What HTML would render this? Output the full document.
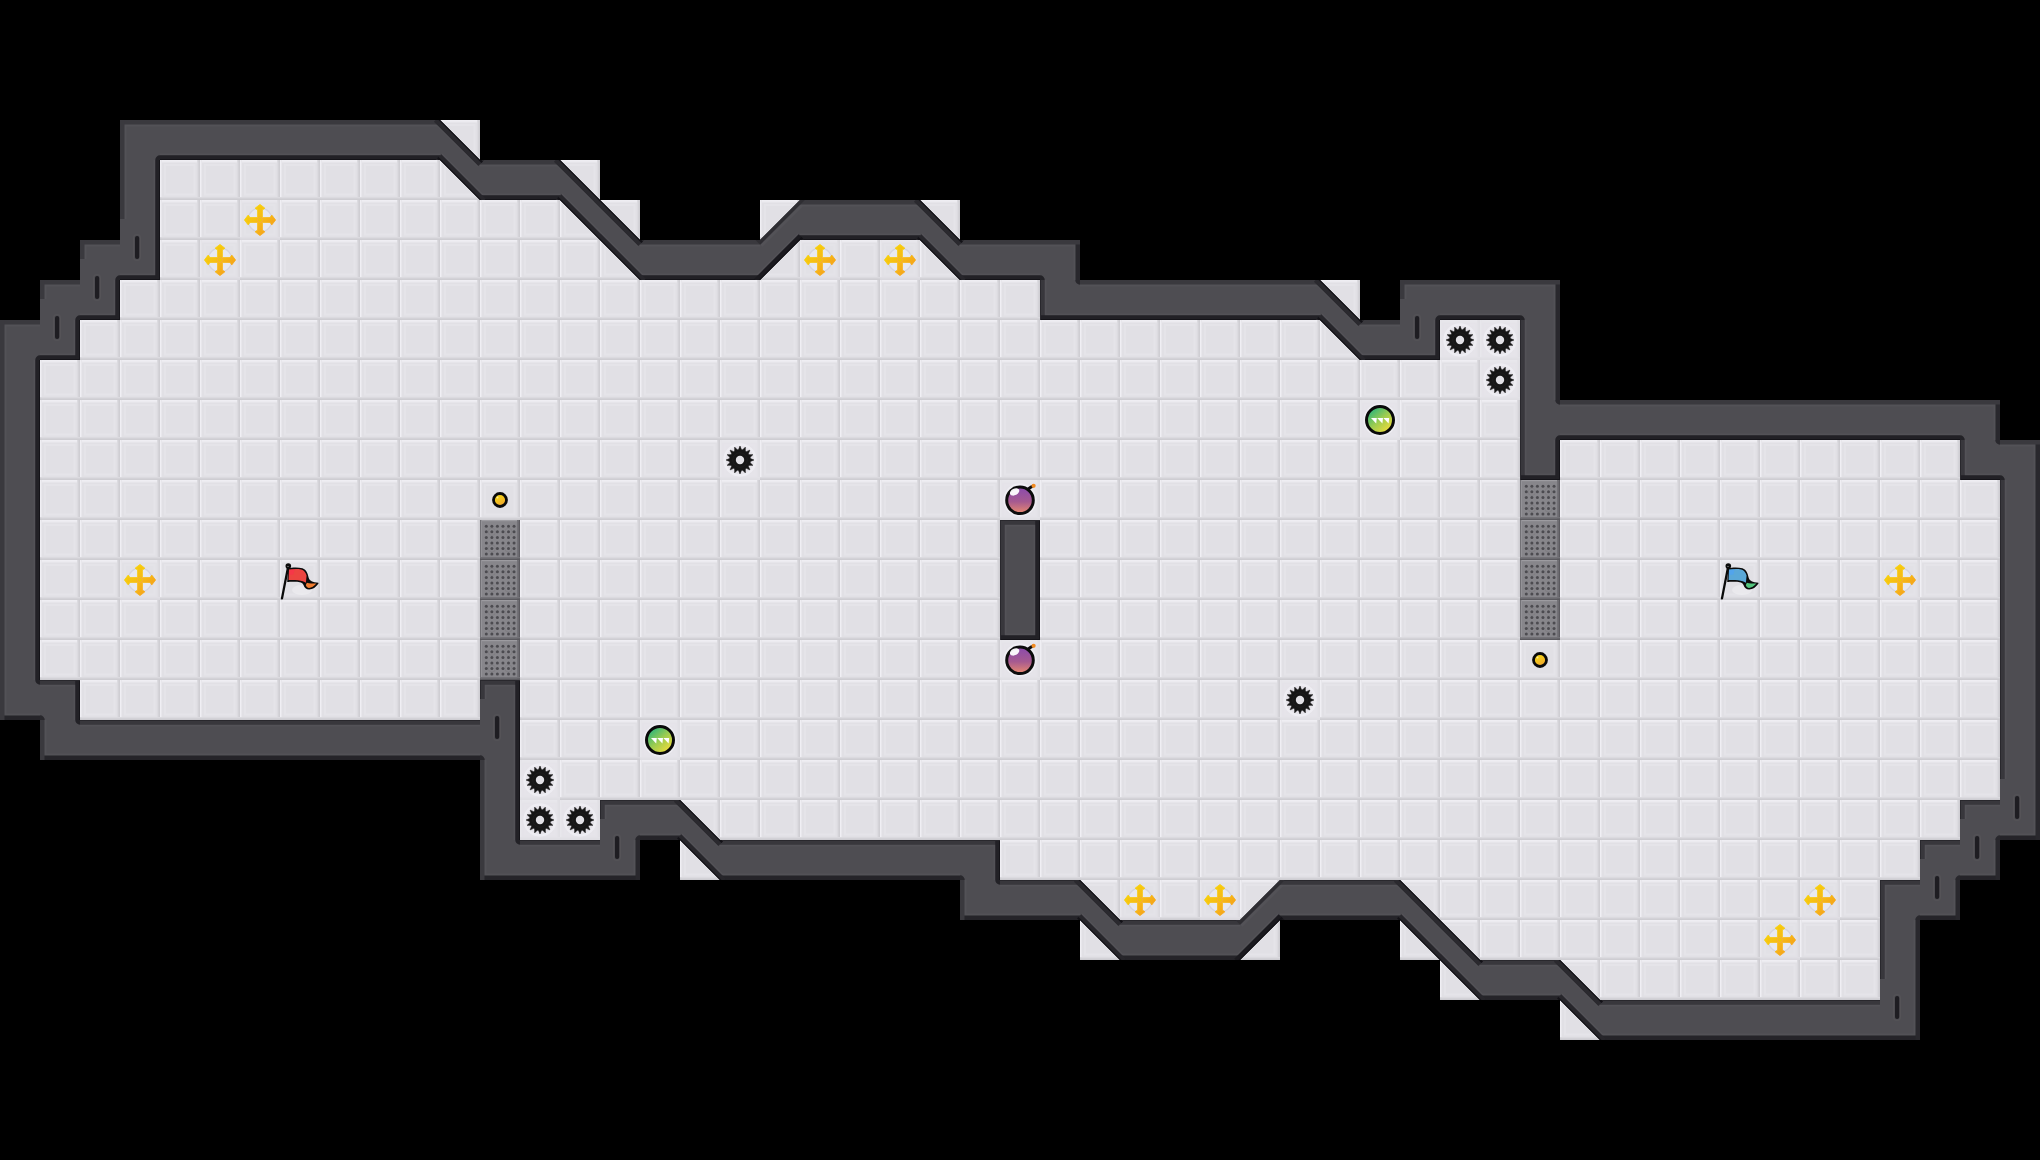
<!DOCTYPE html><html><head><meta charset="utf-8"><style>html,body{margin:0;padding:0;background:#000;overflow:hidden}svg{display:block}</style></head><body>
<svg width="2040" height="1160" viewBox="0 0 2040 1160">
<defs>
<pattern id="fl" width="40" height="40" patternUnits="userSpaceOnUse">
<rect width="40" height="40" fill="#e1e0e5"/>
<rect x="5" y="5" width="29.5" height="29.5" fill="none" stroke="#e5e4e9" stroke-width="2"/>
<rect x="0" y="0" width="40" height="1" fill="#efeef3"/>
<rect x="0" y="1" width="40" height="1" fill="#ecebf0"/>
<rect x="0" y="2" width="40" height="1" fill="#e6e5ea"/>
<rect x="0" y="0" width="1" height="40" fill="#f0eff4"/>
<rect x="1" y="0" width="1" height="40" fill="#e8e7ec"/>
<rect x="37" y="0" width="1" height="40" fill="#dcdbe0"/>
<rect x="38" y="0" width="1" height="40" fill="#d4d3d8"/>
<rect x="39" y="0" width="1" height="40" fill="#cfced3"/>
<rect x="0" y="37" width="40" height="1" fill="#dbdadf"/>
<rect x="0" y="38" width="40" height="1" fill="#d3d2d7"/>
<rect x="0" y="39" width="40" height="1" fill="#cecdd2"/>
</pattern>
<clipPath id="wc"><path d="M120 120h40v40h-40zM160 120h40v40h-40zM200 120h40v40h-40zM240 120h40v40h-40zM280 120h40v40h-40zM320 120h40v40h-40zM360 120h40v40h-40zM400 120h40v40h-40zM440 120 L440 160 L480 160 ZM120 160h40v40h-40zM440 160 L480 160 L480 200 ZM480 160h40v40h-40zM520 160h40v40h-40zM560 160 L560 200 L600 200 ZM120 200h40v40h-40zM560 200 L600 200 L600 240 ZM600 200 L600 240 L640 240 ZM800 200 L800 240 L760 240 ZM800 200h40v40h-40zM840 200h40v40h-40zM880 200h40v40h-40zM920 200 L920 240 L960 240 ZM80 240h40v40h-40zM120 240h40v40h-40zM600 240 L640 240 L640 280 ZM640 240h40v40h-40zM680 240h40v40h-40zM720 240h40v40h-40zM760 240 L800 240 L760 280 ZM920 240 L960 240 L960 280 ZM960 240h40v40h-40zM1000 240h40v40h-40zM1040 240h40v40h-40zM40 280h40v40h-40zM80 280h40v40h-40zM1040 280h40v40h-40zM1080 280h40v40h-40zM1120 280h40v40h-40zM1160 280h40v40h-40zM1200 280h40v40h-40zM1240 280h40v40h-40zM1280 280h40v40h-40zM1320 280 L1320 320 L1360 320 ZM1400 280h40v40h-40zM1440 280h40v40h-40zM1480 280h40v40h-40zM1520 280h40v40h-40zM0 320h40v40h-40zM40 320h40v40h-40zM1320 320 L1360 320 L1360 360 ZM1360 320h40v40h-40zM1400 320h40v40h-40zM1520 320h40v40h-40zM0 360h40v40h-40zM1520 360h40v40h-40zM0 400h40v40h-40zM1520 400h40v40h-40zM1560 400h40v40h-40zM1600 400h40v40h-40zM1640 400h40v40h-40zM1680 400h40v40h-40zM1720 400h40v40h-40zM1760 400h40v40h-40zM1800 400h40v40h-40zM1840 400h40v40h-40zM1880 400h40v40h-40zM1920 400h40v40h-40zM1960 400h40v40h-40zM0 440h40v40h-40zM1520 440h40v40h-40zM1960 440h40v40h-40zM2000 440h40v40h-40zM0 480h40v40h-40zM2000 480h40v40h-40zM0 520h40v40h-40zM1000 520h40v40h-40zM2000 520h40v40h-40zM0 560h40v40h-40zM1000 560h40v40h-40zM2000 560h40v40h-40zM0 600h40v40h-40zM1000 600h40v40h-40zM2000 600h40v40h-40zM0 640h40v40h-40zM2000 640h40v40h-40zM0 680h40v40h-40zM40 680h40v40h-40zM480 680h40v40h-40zM2000 680h40v40h-40zM40 720h40v40h-40zM80 720h40v40h-40zM120 720h40v40h-40zM160 720h40v40h-40zM200 720h40v40h-40zM240 720h40v40h-40zM280 720h40v40h-40zM320 720h40v40h-40zM360 720h40v40h-40zM400 720h40v40h-40zM440 720h40v40h-40zM480 720h40v40h-40zM2000 720h40v40h-40zM480 760h40v40h-40zM2000 760h40v40h-40zM480 800h40v40h-40zM600 800h40v40h-40zM640 800h40v40h-40zM680 800 L680 840 L720 840 ZM1960 800h40v40h-40zM2000 800h40v40h-40zM480 840h40v40h-40zM520 840h40v40h-40zM560 840h40v40h-40zM600 840h40v40h-40zM680 840 L720 840 L720 880 ZM720 840h40v40h-40zM760 840h40v40h-40zM800 840h40v40h-40zM840 840h40v40h-40zM880 840h40v40h-40zM920 840h40v40h-40zM960 840h40v40h-40zM1920 840h40v40h-40zM1960 840h40v40h-40zM960 880h40v40h-40zM1000 880h40v40h-40zM1040 880h40v40h-40zM1080 880 L1080 920 L1120 920 ZM1280 880 L1280 920 L1240 920 ZM1280 880h40v40h-40zM1320 880h40v40h-40zM1360 880h40v40h-40zM1400 880 L1400 920 L1440 920 ZM1880 880h40v40h-40zM1920 880h40v40h-40zM1080 920 L1120 920 L1120 960 ZM1120 920h40v40h-40zM1160 920h40v40h-40zM1200 920h40v40h-40zM1240 920 L1280 920 L1240 960 ZM1400 920 L1440 920 L1440 960 ZM1440 920 L1440 960 L1480 960 ZM1880 920h40v40h-40zM1440 960 L1480 960 L1480 1000 ZM1480 960h40v40h-40zM1520 960h40v40h-40zM1560 960 L1560 1000 L1600 1000 ZM1880 960h40v40h-40zM1560 1000 L1600 1000 L1600 1040 ZM1600 1000h40v40h-40zM1640 1000h40v40h-40zM1680 1000h40v40h-40zM1720 1000h40v40h-40zM1760 1000h40v40h-40zM1800 1000h40v40h-40zM1840 1000h40v40h-40zM1880 1000h40v40h-40z"/></clipPath>
<linearGradient id="bg" x1="0" y1="0" x2="1" y2="1"><stop offset="0" stop-color="#f8dc00"/><stop offset="0.5" stop-color="#f7c012"/><stop offset="1" stop-color="#f5901c"/></linearGradient>
<linearGradient id="bombg" x1="0" y1="0" x2="0" y2="1"><stop offset="0" stop-color="#8a4aae"/><stop offset="0.55" stop-color="#a65a90"/><stop offset="1" stop-color="#ea8a6e"/></linearGradient>
<linearGradient id="pug" x1="0.15" y1="0.1" x2="0.85" y2="0.9"><stop offset="0" stop-color="#2ab47c"/><stop offset="0.5" stop-color="#9ccc50"/><stop offset="1" stop-color="#f0dc3a"/></linearGradient>
<linearGradient id="btg" x1="0.2" y1="0" x2="0.8" y2="1"><stop offset="0" stop-color="#f6e010"/><stop offset="1" stop-color="#f0a032"/></linearGradient>
<radialGradient id="halo"><stop offset="0" stop-color="#ffffff" stop-opacity="0.35"/><stop offset="1" stop-color="#ffffff" stop-opacity="0"/></radialGradient>
</defs>
<rect width="2040" height="1160" fill="#000"/>
<path d="M440 120h40v40h-40zM160 160h40v40h-40zM200 160h40v40h-40zM240 160h40v40h-40zM280 160h40v40h-40zM320 160h40v40h-40zM360 160h40v40h-40zM400 160h40v40h-40zM440 160h40v40h-40zM560 160h40v40h-40zM160 200h40v40h-40zM200 200h40v40h-40zM240 200h40v40h-40zM280 200h40v40h-40zM320 200h40v40h-40zM360 200h40v40h-40zM400 200h40v40h-40zM440 200h40v40h-40zM480 200h40v40h-40zM520 200h40v40h-40zM560 200h40v40h-40zM600 200h40v40h-40zM760 200h40v40h-40zM920 200h40v40h-40zM160 240h40v40h-40zM200 240h40v40h-40zM240 240h40v40h-40zM280 240h40v40h-40zM320 240h40v40h-40zM360 240h40v40h-40zM400 240h40v40h-40zM440 240h40v40h-40zM480 240h40v40h-40zM520 240h40v40h-40zM560 240h40v40h-40zM600 240h40v40h-40zM760 240h40v40h-40zM800 240h40v40h-40zM840 240h40v40h-40zM880 240h40v40h-40zM920 240h40v40h-40zM120 280h40v40h-40zM160 280h40v40h-40zM200 280h40v40h-40zM240 280h40v40h-40zM280 280h40v40h-40zM320 280h40v40h-40zM360 280h40v40h-40zM400 280h40v40h-40zM440 280h40v40h-40zM480 280h40v40h-40zM520 280h40v40h-40zM560 280h40v40h-40zM600 280h40v40h-40zM640 280h40v40h-40zM680 280h40v40h-40zM720 280h40v40h-40zM760 280h40v40h-40zM800 280h40v40h-40zM840 280h40v40h-40zM880 280h40v40h-40zM920 280h40v40h-40zM960 280h40v40h-40zM1000 280h40v40h-40zM1320 280h40v40h-40zM80 320h40v40h-40zM120 320h40v40h-40zM160 320h40v40h-40zM200 320h40v40h-40zM240 320h40v40h-40zM280 320h40v40h-40zM320 320h40v40h-40zM360 320h40v40h-40zM400 320h40v40h-40zM440 320h40v40h-40zM480 320h40v40h-40zM520 320h40v40h-40zM560 320h40v40h-40zM600 320h40v40h-40zM640 320h40v40h-40zM680 320h40v40h-40zM720 320h40v40h-40zM760 320h40v40h-40zM800 320h40v40h-40zM840 320h40v40h-40zM880 320h40v40h-40zM920 320h40v40h-40zM960 320h40v40h-40zM1000 320h40v40h-40zM1040 320h40v40h-40zM1080 320h40v40h-40zM1120 320h40v40h-40zM1160 320h40v40h-40zM1200 320h40v40h-40zM1240 320h40v40h-40zM1280 320h40v40h-40zM1320 320h40v40h-40zM1440 320h40v40h-40zM1480 320h40v40h-40zM40 360h40v40h-40zM80 360h40v40h-40zM120 360h40v40h-40zM160 360h40v40h-40zM200 360h40v40h-40zM240 360h40v40h-40zM280 360h40v40h-40zM320 360h40v40h-40zM360 360h40v40h-40zM400 360h40v40h-40zM440 360h40v40h-40zM480 360h40v40h-40zM520 360h40v40h-40zM560 360h40v40h-40zM600 360h40v40h-40zM640 360h40v40h-40zM680 360h40v40h-40zM720 360h40v40h-40zM760 360h40v40h-40zM800 360h40v40h-40zM840 360h40v40h-40zM880 360h40v40h-40zM920 360h40v40h-40zM960 360h40v40h-40zM1000 360h40v40h-40zM1040 360h40v40h-40zM1080 360h40v40h-40zM1120 360h40v40h-40zM1160 360h40v40h-40zM1200 360h40v40h-40zM1240 360h40v40h-40zM1280 360h40v40h-40zM1320 360h40v40h-40zM1360 360h40v40h-40zM1400 360h40v40h-40zM1440 360h40v40h-40zM1480 360h40v40h-40zM40 400h40v40h-40zM80 400h40v40h-40zM120 400h40v40h-40zM160 400h40v40h-40zM200 400h40v40h-40zM240 400h40v40h-40zM280 400h40v40h-40zM320 400h40v40h-40zM360 400h40v40h-40zM400 400h40v40h-40zM440 400h40v40h-40zM480 400h40v40h-40zM520 400h40v40h-40zM560 400h40v40h-40zM600 400h40v40h-40zM640 400h40v40h-40zM680 400h40v40h-40zM720 400h40v40h-40zM760 400h40v40h-40zM800 400h40v40h-40zM840 400h40v40h-40zM880 400h40v40h-40zM920 400h40v40h-40zM960 400h40v40h-40zM1000 400h40v40h-40zM1040 400h40v40h-40zM1080 400h40v40h-40zM1120 400h40v40h-40zM1160 400h40v40h-40zM1200 400h40v40h-40zM1240 400h40v40h-40zM1280 400h40v40h-40zM1320 400h40v40h-40zM1360 400h40v40h-40zM1400 400h40v40h-40zM1440 400h40v40h-40zM1480 400h40v40h-40zM40 440h40v40h-40zM80 440h40v40h-40zM120 440h40v40h-40zM160 440h40v40h-40zM200 440h40v40h-40zM240 440h40v40h-40zM280 440h40v40h-40zM320 440h40v40h-40zM360 440h40v40h-40zM400 440h40v40h-40zM440 440h40v40h-40zM480 440h40v40h-40zM520 440h40v40h-40zM560 440h40v40h-40zM600 440h40v40h-40zM640 440h40v40h-40zM680 440h40v40h-40zM720 440h40v40h-40zM760 440h40v40h-40zM800 440h40v40h-40zM840 440h40v40h-40zM880 440h40v40h-40zM920 440h40v40h-40zM960 440h40v40h-40zM1000 440h40v40h-40zM1040 440h40v40h-40zM1080 440h40v40h-40zM1120 440h40v40h-40zM1160 440h40v40h-40zM1200 440h40v40h-40zM1240 440h40v40h-40zM1280 440h40v40h-40zM1320 440h40v40h-40zM1360 440h40v40h-40zM1400 440h40v40h-40zM1440 440h40v40h-40zM1480 440h40v40h-40zM1560 440h40v40h-40zM1600 440h40v40h-40zM1640 440h40v40h-40zM1680 440h40v40h-40zM1720 440h40v40h-40zM1760 440h40v40h-40zM1800 440h40v40h-40zM1840 440h40v40h-40zM1880 440h40v40h-40zM1920 440h40v40h-40zM40 480h40v40h-40zM80 480h40v40h-40zM120 480h40v40h-40zM160 480h40v40h-40zM200 480h40v40h-40zM240 480h40v40h-40zM280 480h40v40h-40zM320 480h40v40h-40zM360 480h40v40h-40zM400 480h40v40h-40zM440 480h40v40h-40zM480 480h40v40h-40zM520 480h40v40h-40zM560 480h40v40h-40zM600 480h40v40h-40zM640 480h40v40h-40zM680 480h40v40h-40zM720 480h40v40h-40zM760 480h40v40h-40zM800 480h40v40h-40zM840 480h40v40h-40zM880 480h40v40h-40zM920 480h40v40h-40zM960 480h40v40h-40zM1000 480h40v40h-40zM1040 480h40v40h-40zM1080 480h40v40h-40zM1120 480h40v40h-40zM1160 480h40v40h-40zM1200 480h40v40h-40zM1240 480h40v40h-40zM1280 480h40v40h-40zM1320 480h40v40h-40zM1360 480h40v40h-40zM1400 480h40v40h-40zM1440 480h40v40h-40zM1480 480h40v40h-40zM1520 480h40v40h-40zM1560 480h40v40h-40zM1600 480h40v40h-40zM1640 480h40v40h-40zM1680 480h40v40h-40zM1720 480h40v40h-40zM1760 480h40v40h-40zM1800 480h40v40h-40zM1840 480h40v40h-40zM1880 480h40v40h-40zM1920 480h40v40h-40zM1960 480h40v40h-40zM40 520h40v40h-40zM80 520h40v40h-40zM120 520h40v40h-40zM160 520h40v40h-40zM200 520h40v40h-40zM240 520h40v40h-40zM280 520h40v40h-40zM320 520h40v40h-40zM360 520h40v40h-40zM400 520h40v40h-40zM440 520h40v40h-40zM480 520h40v40h-40zM520 520h40v40h-40zM560 520h40v40h-40zM600 520h40v40h-40zM640 520h40v40h-40zM680 520h40v40h-40zM720 520h40v40h-40zM760 520h40v40h-40zM800 520h40v40h-40zM840 520h40v40h-40zM880 520h40v40h-40zM920 520h40v40h-40zM960 520h40v40h-40zM1040 520h40v40h-40zM1080 520h40v40h-40zM1120 520h40v40h-40zM1160 520h40v40h-40zM1200 520h40v40h-40zM1240 520h40v40h-40zM1280 520h40v40h-40zM1320 520h40v40h-40zM1360 520h40v40h-40zM1400 520h40v40h-40zM1440 520h40v40h-40zM1480 520h40v40h-40zM1520 520h40v40h-40zM1560 520h40v40h-40zM1600 520h40v40h-40zM1640 520h40v40h-40zM1680 520h40v40h-40zM1720 520h40v40h-40zM1760 520h40v40h-40zM1800 520h40v40h-40zM1840 520h40v40h-40zM1880 520h40v40h-40zM1920 520h40v40h-40zM1960 520h40v40h-40zM40 560h40v40h-40zM80 560h40v40h-40zM120 560h40v40h-40zM160 560h40v40h-40zM200 560h40v40h-40zM240 560h40v40h-40zM280 560h40v40h-40zM320 560h40v40h-40zM360 560h40v40h-40zM400 560h40v40h-40zM440 560h40v40h-40zM480 560h40v40h-40zM520 560h40v40h-40zM560 560h40v40h-40zM600 560h40v40h-40zM640 560h40v40h-40zM680 560h40v40h-40zM720 560h40v40h-40zM760 560h40v40h-40zM800 560h40v40h-40zM840 560h40v40h-40zM880 560h40v40h-40zM920 560h40v40h-40zM960 560h40v40h-40zM1040 560h40v40h-40zM1080 560h40v40h-40zM1120 560h40v40h-40zM1160 560h40v40h-40zM1200 560h40v40h-40zM1240 560h40v40h-40zM1280 560h40v40h-40zM1320 560h40v40h-40zM1360 560h40v40h-40zM1400 560h40v40h-40zM1440 560h40v40h-40zM1480 560h40v40h-40zM1520 560h40v40h-40zM1560 560h40v40h-40zM1600 560h40v40h-40zM1640 560h40v40h-40zM1680 560h40v40h-40zM1720 560h40v40h-40zM1760 560h40v40h-40zM1800 560h40v40h-40zM1840 560h40v40h-40zM1880 560h40v40h-40zM1920 560h40v40h-40zM1960 560h40v40h-40zM40 600h40v40h-40zM80 600h40v40h-40zM120 600h40v40h-40zM160 600h40v40h-40zM200 600h40v40h-40zM240 600h40v40h-40zM280 600h40v40h-40zM320 600h40v40h-40zM360 600h40v40h-40zM400 600h40v40h-40zM440 600h40v40h-40zM480 600h40v40h-40zM520 600h40v40h-40zM560 600h40v40h-40zM600 600h40v40h-40zM640 600h40v40h-40zM680 600h40v40h-40zM720 600h40v40h-40zM760 600h40v40h-40zM800 600h40v40h-40zM840 600h40v40h-40zM880 600h40v40h-40zM920 600h40v40h-40zM960 600h40v40h-40zM1040 600h40v40h-40zM1080 600h40v40h-40zM1120 600h40v40h-40zM1160 600h40v40h-40zM1200 600h40v40h-40zM1240 600h40v40h-40zM1280 600h40v40h-40zM1320 600h40v40h-40zM1360 600h40v40h-40zM1400 600h40v40h-40zM1440 600h40v40h-40zM1480 600h40v40h-40zM1520 600h40v40h-40zM1560 600h40v40h-40zM1600 600h40v40h-40zM1640 600h40v40h-40zM1680 600h40v40h-40zM1720 600h40v40h-40zM1760 600h40v40h-40zM1800 600h40v40h-40zM1840 600h40v40h-40zM1880 600h40v40h-40zM1920 600h40v40h-40zM1960 600h40v40h-40zM40 640h40v40h-40zM80 640h40v40h-40zM120 640h40v40h-40zM160 640h40v40h-40zM200 640h40v40h-40zM240 640h40v40h-40zM280 640h40v40h-40zM320 640h40v40h-40zM360 640h40v40h-40zM400 640h40v40h-40zM440 640h40v40h-40zM480 640h40v40h-40zM520 640h40v40h-40zM560 640h40v40h-40zM600 640h40v40h-40zM640 640h40v40h-40zM680 640h40v40h-40zM720 640h40v40h-40zM760 640h40v40h-40zM800 640h40v40h-40zM840 640h40v40h-40zM880 640h40v40h-40zM920 640h40v40h-40zM960 640h40v40h-40zM1000 640h40v40h-40zM1040 640h40v40h-40zM1080 640h40v40h-40zM1120 640h40v40h-40zM1160 640h40v40h-40zM1200 640h40v40h-40zM1240 640h40v40h-40zM1280 640h40v40h-40zM1320 640h40v40h-40zM1360 640h40v40h-40zM1400 640h40v40h-40zM1440 640h40v40h-40zM1480 640h40v40h-40zM1520 640h40v40h-40zM1560 640h40v40h-40zM1600 640h40v40h-40zM1640 640h40v40h-40zM1680 640h40v40h-40zM1720 640h40v40h-40zM1760 640h40v40h-40zM1800 640h40v40h-40zM1840 640h40v40h-40zM1880 640h40v40h-40zM1920 640h40v40h-40zM1960 640h40v40h-40zM80 680h40v40h-40zM120 680h40v40h-40zM160 680h40v40h-40zM200 680h40v40h-40zM240 680h40v40h-40zM280 680h40v40h-40zM320 680h40v40h-40zM360 680h40v40h-40zM400 680h40v40h-40zM440 680h40v40h-40zM520 680h40v40h-40zM560 680h40v40h-40zM600 680h40v40h-40zM640 680h40v40h-40zM680 680h40v40h-40zM720 680h40v40h-40zM760 680h40v40h-40zM800 680h40v40h-40zM840 680h40v40h-40zM880 680h40v40h-40zM920 680h40v40h-40zM960 680h40v40h-40zM1000 680h40v40h-40zM1040 680h40v40h-40zM1080 680h40v40h-40zM1120 680h40v40h-40zM1160 680h40v40h-40zM1200 680h40v40h-40zM1240 680h40v40h-40zM1280 680h40v40h-40zM1320 680h40v40h-40zM1360 680h40v40h-40zM1400 680h40v40h-40zM1440 680h40v40h-40zM1480 680h40v40h-40zM1520 680h40v40h-40zM1560 680h40v40h-40zM1600 680h40v40h-40zM1640 680h40v40h-40zM1680 680h40v40h-40zM1720 680h40v40h-40zM1760 680h40v40h-40zM1800 680h40v40h-40zM1840 680h40v40h-40zM1880 680h40v40h-40zM1920 680h40v40h-40zM1960 680h40v40h-40zM520 720h40v40h-40zM560 720h40v40h-40zM600 720h40v40h-40zM640 720h40v40h-40zM680 720h40v40h-40zM720 720h40v40h-40zM760 720h40v40h-40zM800 720h40v40h-40zM840 720h40v40h-40zM880 720h40v40h-40zM920 720h40v40h-40zM960 720h40v40h-40zM1000 720h40v40h-40zM1040 720h40v40h-40zM1080 720h40v40h-40zM1120 720h40v40h-40zM1160 720h40v40h-40zM1200 720h40v40h-40zM1240 720h40v40h-40zM1280 720h40v40h-40zM1320 720h40v40h-40zM1360 720h40v40h-40zM1400 720h40v40h-40zM1440 720h40v40h-40zM1480 720h40v40h-40zM1520 720h40v40h-40zM1560 720h40v40h-40zM1600 720h40v40h-40zM1640 720h40v40h-40zM1680 720h40v40h-40zM1720 720h40v40h-40zM1760 720h40v40h-40zM1800 720h40v40h-40zM1840 720h40v40h-40zM1880 720h40v40h-40zM1920 720h40v40h-40zM1960 720h40v40h-40zM520 760h40v40h-40zM560 760h40v40h-40zM600 760h40v40h-40zM640 760h40v40h-40zM680 760h40v40h-40zM720 760h40v40h-40zM760 760h40v40h-40zM800 760h40v40h-40zM840 760h40v40h-40zM880 760h40v40h-40zM920 760h40v40h-40zM960 760h40v40h-40zM1000 760h40v40h-40zM1040 760h40v40h-40zM1080 760h40v40h-40zM1120 760h40v40h-40zM1160 760h40v40h-40zM1200 760h40v40h-40zM1240 760h40v40h-40zM1280 760h40v40h-40zM1320 760h40v40h-40zM1360 760h40v40h-40zM1400 760h40v40h-40zM1440 760h40v40h-40zM1480 760h40v40h-40zM1520 760h40v40h-40zM1560 760h40v40h-40zM1600 760h40v40h-40zM1640 760h40v40h-40zM1680 760h40v40h-40zM1720 760h40v40h-40zM1760 760h40v40h-40zM1800 760h40v40h-40zM1840 760h40v40h-40zM1880 760h40v40h-40zM1920 760h40v40h-40zM1960 760h40v40h-40zM520 800h40v40h-40zM560 800h40v40h-40zM680 800h40v40h-40zM720 800h40v40h-40zM760 800h40v40h-40zM800 800h40v40h-40zM840 800h40v40h-40zM880 800h40v40h-40zM920 800h40v40h-40zM960 800h40v40h-40zM1000 800h40v40h-40zM1040 800h40v40h-40zM1080 800h40v40h-40zM1120 800h40v40h-40zM1160 800h40v40h-40zM1200 800h40v40h-40zM1240 800h40v40h-40zM1280 800h40v40h-40zM1320 800h40v40h-40zM1360 800h40v40h-40zM1400 800h40v40h-40zM1440 800h40v40h-40zM1480 800h40v40h-40zM1520 800h40v40h-40zM1560 800h40v40h-40zM1600 800h40v40h-40zM1640 800h40v40h-40zM1680 800h40v40h-40zM1720 800h40v40h-40zM1760 800h40v40h-40zM1800 800h40v40h-40zM1840 800h40v40h-40zM1880 800h40v40h-40zM1920 800h40v40h-40zM680 840h40v40h-40zM1000 840h40v40h-40zM1040 840h40v40h-40zM1080 840h40v40h-40zM1120 840h40v40h-40zM1160 840h40v40h-40zM1200 840h40v40h-40zM1240 840h40v40h-40zM1280 840h40v40h-40zM1320 840h40v40h-40zM1360 840h40v40h-40zM1400 840h40v40h-40zM1440 840h40v40h-40zM1480 840h40v40h-40zM1520 840h40v40h-40zM1560 840h40v40h-40zM1600 840h40v40h-40zM1640 840h40v40h-40zM1680 840h40v40h-40zM1720 840h40v40h-40zM1760 840h40v40h-40zM1800 840h40v40h-40zM1840 840h40v40h-40zM1880 840h40v40h-40zM1080 880h40v40h-40zM1120 880h40v40h-40zM1160 880h40v40h-40zM1200 880h40v40h-40zM1240 880h40v40h-40zM1400 880h40v40h-40zM1440 880h40v40h-40zM1480 880h40v40h-40zM1520 880h40v40h-40zM1560 880h40v40h-40zM1600 880h40v40h-40zM1640 880h40v40h-40zM1680 880h40v40h-40zM1720 880h40v40h-40zM1760 880h40v40h-40zM1800 880h40v40h-40zM1840 880h40v40h-40zM1080 920h40v40h-40zM1240 920h40v40h-40zM1400 920h40v40h-40zM1440 920h40v40h-40zM1480 920h40v40h-40zM1520 920h40v40h-40zM1560 920h40v40h-40zM1600 920h40v40h-40zM1640 920h40v40h-40zM1680 920h40v40h-40zM1720 920h40v40h-40zM1760 920h40v40h-40zM1800 920h40v40h-40zM1840 920h40v40h-40zM1440 960h40v40h-40zM1560 960h40v40h-40zM1600 960h40v40h-40zM1640 960h40v40h-40zM1680 960h40v40h-40zM1720 960h40v40h-40zM1760 960h40v40h-40zM1800 960h40v40h-40zM1840 960h40v40h-40zM1560 1000h40v40h-40z" fill="url(#fl)"/>
<path d="M120 120h40v40h-40zM160 120h40v40h-40zM200 120h40v40h-40zM240 120h40v40h-40zM280 120h40v40h-40zM320 120h40v40h-40zM360 120h40v40h-40zM400 120h40v40h-40zM440 120 L440 160 L480 160 ZM120 160h40v40h-40zM440 160 L480 160 L480 200 ZM480 160h40v40h-40zM520 160h40v40h-40zM560 160 L560 200 L600 200 ZM120 200h40v40h-40zM560 200 L600 200 L600 240 ZM600 200 L600 240 L640 240 ZM800 200 L800 240 L760 240 ZM800 200h40v40h-40zM840 200h40v40h-40zM880 200h40v40h-40zM920 200 L920 240 L960 240 ZM80 240h40v40h-40zM120 240h40v40h-40zM600 240 L640 240 L640 280 ZM640 240h40v40h-40zM680 240h40v40h-40zM720 240h40v40h-40zM760 240 L800 240 L760 280 ZM920 240 L960 240 L960 280 ZM960 240h40v40h-40zM1000 240h40v40h-40zM1040 240h40v40h-40zM40 280h40v40h-40zM80 280h40v40h-40zM1040 280h40v40h-40zM1080 280h40v40h-40zM1120 280h40v40h-40zM1160 280h40v40h-40zM1200 280h40v40h-40zM1240 280h40v40h-40zM1280 280h40v40h-40zM1320 280 L1320 320 L1360 320 ZM1400 280h40v40h-40zM1440 280h40v40h-40zM1480 280h40v40h-40zM1520 280h40v40h-40zM0 320h40v40h-40zM40 320h40v40h-40zM1320 320 L1360 320 L1360 360 ZM1360 320h40v40h-40zM1400 320h40v40h-40zM1520 320h40v40h-40zM0 360h40v40h-40zM1520 360h40v40h-40zM0 400h40v40h-40zM1520 400h40v40h-40zM1560 400h40v40h-40zM1600 400h40v40h-40zM1640 400h40v40h-40zM1680 400h40v40h-40zM1720 400h40v40h-40zM1760 400h40v40h-40zM1800 400h40v40h-40zM1840 400h40v40h-40zM1880 400h40v40h-40zM1920 400h40v40h-40zM1960 400h40v40h-40zM0 440h40v40h-40zM1520 440h40v40h-40zM1960 440h40v40h-40zM2000 440h40v40h-40zM0 480h40v40h-40zM2000 480h40v40h-40zM0 520h40v40h-40zM1000 520h40v40h-40zM2000 520h40v40h-40zM0 560h40v40h-40zM1000 560h40v40h-40zM2000 560h40v40h-40zM0 600h40v40h-40zM1000 600h40v40h-40zM2000 600h40v40h-40zM0 640h40v40h-40zM2000 640h40v40h-40zM0 680h40v40h-40zM40 680h40v40h-40zM480 680h40v40h-40zM2000 680h40v40h-40zM40 720h40v40h-40zM80 720h40v40h-40zM120 720h40v40h-40zM160 720h40v40h-40zM200 720h40v40h-40zM240 720h40v40h-40zM280 720h40v40h-40zM320 720h40v40h-40zM360 720h40v40h-40zM400 720h40v40h-40zM440 720h40v40h-40zM480 720h40v40h-40zM2000 720h40v40h-40zM480 760h40v40h-40zM2000 760h40v40h-40zM480 800h40v40h-40zM600 800h40v40h-40zM640 800h40v40h-40zM680 800 L680 840 L720 840 ZM1960 800h40v40h-40zM2000 800h40v40h-40zM480 840h40v40h-40zM520 840h40v40h-40zM560 840h40v40h-40zM600 840h40v40h-40zM680 840 L720 840 L720 880 ZM720 840h40v40h-40zM760 840h40v40h-40zM800 840h40v40h-40zM840 840h40v40h-40zM880 840h40v40h-40zM920 840h40v40h-40zM960 840h40v40h-40zM1920 840h40v40h-40zM1960 840h40v40h-40zM960 880h40v40h-40zM1000 880h40v40h-40zM1040 880h40v40h-40zM1080 880 L1080 920 L1120 920 ZM1280 880 L1280 920 L1240 920 ZM1280 880h40v40h-40zM1320 880h40v40h-40zM1360 880h40v40h-40zM1400 880 L1400 920 L1440 920 ZM1880 880h40v40h-40zM1920 880h40v40h-40zM1080 920 L1120 920 L1120 960 ZM1120 920h40v40h-40zM1160 920h40v40h-40zM1200 920h40v40h-40zM1240 920 L1280 920 L1240 960 ZM1400 920 L1440 920 L1440 960 ZM1440 920 L1440 960 L1480 960 ZM1880 920h40v40h-40zM1440 960 L1480 960 L1480 1000 ZM1480 960h40v40h-40zM1520 960h40v40h-40zM1560 960 L1560 1000 L1600 1000 ZM1880 960h40v40h-40zM1560 1000 L1600 1000 L1600 1040 ZM1600 1000h40v40h-40zM1640 1000h40v40h-40zM1680 1000h40v40h-40zM1720 1000h40v40h-40zM1760 1000h40v40h-40zM1800 1000h40v40h-40zM1840 1000h40v40h-40zM1880 1000h40v40h-40z" fill="#4e4d52"/>
<g clip-path="url(#wc)" fill="none" stroke-linecap="square">
<path d="M160 160H200M200 160H240M240 160H280M280 160H320M320 160H360M360 160H400M400 160H440M480 200H520M520 200H560M800 240H840M840 240H880M880 240H920M120 280H160M640 280H680M680 280H720M720 280H760M960 280H1000M1000 280H1040M80 320H120M1040 320H1080M1080 320H1120M1120 320H1160M1160 320H1200M1200 320H1240M1240 320H1280M1280 320H1320M1440 320H1480M1480 320H1520M40 360H80M1360 360H1400M1400 360H1440M1560 440H1600M1600 440H1640M1640 440H1680M1680 440H1720M1720 440H1760M1760 440H1800M1800 440H1840M1840 440H1880M1880 440H1920M1920 440H1960M1520 480H1560M1960 480H2000M1000 640H1040M1000 520H1040M40 680H80M480 680H520M80 720H120M120 720H160M160 720H200M200 720H240M240 720H280M280 720H320M320 720H360M360 720H400M400 720H440M440 720H480M600 800H640M640 800H680M1960 800H2000M520 840H560M560 840H600M720 840H760M760 840H800M800 840H840M840 840H880M880 840H920M920 840H960M960 840H1000M1920 840H1960M1000 880H1040M1040 880H1080M1280 880H1320M1320 880H1360M1360 880H1400M1880 880H1920M1120 920H1160M1160 920H1200M1200 920H1240M1480 960H1520M1520 960H1560M1600 1000H1640M1640 1000H1680M1680 1000H1720M1720 1000H1760M1760 1000H1800M1800 1000H1840M1840 1000H1880M160 160V200M160 200V240M160 240V280M120 280V320M80 320V360M1440 320V360M40 360V400M40 400V440M40 440V480M1560 440V480M40 480V520M40 520V560M1040 520V560M40 560V600M1040 560V600M40 600V640M1040 600V640M40 640V680M80 680V720M520 680V720M520 720V760M520 760V800M520 800V840M1000 840V880M1040 280V320M1520 320V360M1520 360V400M1520 400V440M1520 440V480M1960 440V480M2000 480V520M1000 520V560M2000 520V560M1000 560V600M2000 560V600M1000 600V640M2000 600V640M2000 640V680M480 680V699M2000 680V720M2000 720V760M2000 760V779M600 800V819M1960 800V819M1920 840V859M1880 880V920M1880 920V960M1880 960V979" stroke="#535257" stroke-width="13" stroke-linecap="butt"/>
<path d="M0 720H40M40 760H80M80 760H120M120 760H160M160 760H200M200 760H240M240 760H280M280 760H320M320 760H360M360 760H400M400 760H440M440 760H480M640 840H680M2000 840H2040M480 880H520M520 880H560M560 880H600M600 880H640M720 880H760M760 880H800M800 880H840M840 880H880M880 880H920M920 880H960M1960 880H2000M960 920H1000M1000 920H1040M1040 920H1080M1280 920H1320M1320 920H1360M1360 920H1400M1920 920H1960M1120 960H1160M1160 960H1200M1200 960H1240M1480 1000H1520M1520 1000H1560M1600 1040H1640M1640 1040H1680M1680 1040H1720M1720 1040H1760M1760 1040H1800M1800 1040H1840M1840 1040H1880M1880 1040H1920M120 120H160M160 120H200M200 120H240M240 120H280M280 120H320M320 120H360M360 120H400M400 120H440M480 160H520M520 160H560M800 200H840M840 200H880M880 200H920M80 240H120M640 240H680M680 240H720M720 240H760M960 240H1000M1000 240H1040M1040 240H1080M40 280H80M1080 280H1120M1120 280H1160M1160 280H1200M1200 280H1240M1240 280H1280M1280 280H1320M1400 280H1440M1440 280H1480M1480 280H1520M1520 280H1560M0 320H40M1360 320H1400M1560 400H1600M1600 400H1640M1640 400H1680M1680 400H1720M1720 400H1760M1760 400H1800M1800 400H1840M1840 400H1880M1880 400H1920M1920 400H1960M1960 400H2000M2000 440H2040M1080 240V280M1560 280V320M1560 320V360M1560 360V400M2000 400V440M640 840V880M2000 840V880M1960 880V920M1920 920V960M1920 960V1000M1920 1000V1040M2040 0V1160M120 120V160M120 160V200M120 200V219M80 240V259M40 280V299M1400 280V299M40 720V760M480 760V800M480 800V840M480 840V880M960 880V920M0 0V1160M437.80 117.80L482.20 162.20M437.80 157.80L482.20 202.20M557.80 157.80L602.20 202.20M557.80 197.80L602.20 242.20M597.80 197.80L642.20 242.20M757.80 242.20L802.20 197.80M917.80 197.80L962.20 242.20M597.80 237.80L642.20 282.20M757.80 282.20L802.20 237.80M917.80 237.80L962.20 282.20M1317.80 277.80L1362.20 322.20M1317.80 317.80L1362.20 362.20M677.80 797.80L722.20 842.20M677.80 837.80L722.20 882.20M1077.80 877.80L1122.20 922.20M1237.80 922.20L1282.20 877.80M1397.80 877.80L1442.20 922.20M1077.80 917.80L1122.20 962.20M1237.80 962.20L1282.20 917.80M1397.80 917.80L1442.20 962.20M1437.80 917.80L1482.20 962.20M1437.80 957.80L1482.20 1002.20M1557.80 957.80L1602.20 1002.20M1557.80 997.80L1602.20 1042.20" stroke="#535257" stroke-width="13" stroke-linecap="butt"/>
<path d="M0 720H40M40 760H80M80 760H120M120 760H160M160 760H200M200 760H240M240 760H280M280 760H320M320 760H360M360 760H400M400 760H440M440 760H480M640 840H680M2000 840H2040M480 880H520M520 880H560M560 880H600M600 880H640M720 880H760M760 880H800M800 880H840M840 880H880M880 880H920M920 880H960M1960 880H2000M960 920H1000M1000 920H1040M1040 920H1080M1280 920H1320M1320 920H1360M1360 920H1400M1920 920H1960M1120 960H1160M1160 960H1200M1200 960H1240M1480 1000H1520M1520 1000H1560M1600 1040H1640M1640 1040H1680M1680 1040H1720M1720 1040H1760M1760 1040H1800M1800 1040H1840M1840 1040H1880M1880 1040H1920" stroke="#252429" stroke-width="9" stroke-linecap="butt"/>
<path d="M1080 240V280M1560 280V320M1560 320V360M1560 360V400M2000 400V440M640 840V880M2000 840V880M1960 880V920M1920 920V960M1920 960V1000M1920 1000V1040M2040 0V1160" stroke="#29282d" stroke-width="9" stroke-linecap="butt"/>
<path d="M120 120H160M160 120H200M200 120H240M240 120H280M280 120H320M320 120H360M360 120H400M400 120H440M480 160H520M520 160H560M800 200H840M840 200H880M880 200H920M80 240H120M640 240H680M680 240H720M720 240H760M960 240H1000M1000 240H1040M1040 240H1080M40 280H80M1080 280H1120M1120 280H1160M1160 280H1200M1200 280H1240M1240 280H1280M1280 280H1320M1400 280H1440M1440 280H1480M1480 280H1520M1520 280H1560M0 320H40M1360 320H1400M1560 400H1600M1600 400H1640M1640 400H1680M1680 400H1720M1720 400H1760M1760 400H1800M1800 400H1840M1840 400H1880M1880 400H1920M1920 400H1960M1960 400H2000M2000 440H2040" stroke="#3a393e" stroke-width="9" stroke-linecap="butt"/>
<path d="M120 120V160M120 160V200M120 200V219M80 240V259M40 280V299M1400 280V299M40 720V760M480 760V800M480 800V840M480 840V880M960 880V920M0 0V1160" stroke="#3a393e" stroke-width="9" stroke-linecap="butt"/>
<path d="M1000 520H1040M40 680H80M480 680H520M80 720H120M120 720H160M160 720H200M200 720H240M240 720H280M280 720H320M320 720H360M360 720H400M400 720H440M440 720H480M600 800H640M640 800H680M1960 800H2000M520 840H560M560 840H600M720 840H760M760 840H800M800 840H840M840 840H880M880 840H920M920 840H960M960 840H1000M1920 840H1960M1000 880H1040M1040 880H1080M1280 880H1320M1320 880H1360M1360 880H1400M1880 880H1920M1120 920H1160M1160 920H1200M1200 920H1240M1480 960H1520M1520 960H1560M1600 1000H1640M1640 1000H1680M1680 1000H1720M1720 1000H1760M1760 1000H1800M1800 1000H1840M1840 1000H1880" stroke="#38373c" stroke-width="9.5" stroke-linecap="butt"/>
<path d="M1040 280V320M1520 320V360M1520 360V400M1520 400V440M1520 440V480M1960 440V480M2000 480V520M1000 520V560M2000 520V560M1000 560V600M2000 560V600M1000 600V640M2000 600V640M2000 640V680M480 680V699M2000 680V720M2000 720V760M2000 760V779M600 800V819M1960 800V819M1920 840V859M1880 880V920M1880 920V960M1880 960V979" stroke="#38373c" stroke-width="9.5" stroke-linecap="butt"/>
<path d="M160 160H200M200 160H240M240 160H280M280 160H320M320 160H360M360 160H400M400 160H440M480 200H520M520 200H560M800 240H840M840 240H880M880 240H920M120 280H160M640 280H680M680 280H720M720 280H760M960 280H1000M1000 280H1040M80 320H120M1040 320H1080M1080 320H1120M1120 320H1160M1160 320H1200M1200 320H1240M1240 320H1280M1280 320H1320M1440 320H1480M1480 320H1520M40 360H80M1360 360H1400M1400 360H1440M1560 440H1600M1600 440H1640M1640 440H1680M1680 440H1720M1720 440H1760M1760 440H1800M1800 440H1840M1840 440H1880M1880 440H1920M1920 440H1960M1520 480H1560M1960 480H2000M1000 640H1040" stroke="#222126" stroke-width="9.5" stroke-linecap="butt"/>
<path d="M160 160V200M160 200V240M160 240V280M120 280V320M80 320V360M1440 320V360M40 360V400M40 400V440M40 440V480M1560 440V480M40 480V520M40 520V560M1040 520V560M40 560V600M1040 560V600M40 600V640M1040 600V640M40 640V680M80 680V720M520 680V720M520 720V760M520 760V800M520 800V840M1000 840V880" stroke="#222126" stroke-width="9.5" stroke-linecap="butt"/>
<path d="M160 160H155.25A4.75 4.75 0 0 1 160 155.25ZM120 280H115.25A4.75 4.75 0 0 1 120 275.25ZM1040 280V275.25A4.75 4.75 0 0 1 1044.75 280ZM80 320H75.25A4.75 4.75 0 0 1 80 315.25ZM1440 320H1435.25A4.75 4.75 0 0 1 1440 315.25ZM1520 320V315.25A4.75 4.75 0 0 1 1524.75 320ZM40 360H35.25A4.75 4.75 0 0 1 40 355.25ZM1560 440H1555.25A4.75 4.75 0 0 1 1560 435.25ZM1960 440V435.25A4.75 4.75 0 0 1 1964.75 440ZM2000 480V475.25A4.75 4.75 0 0 1 2004.75 480ZM40 680V684.75A4.75 4.75 0 0 1 35.25 680ZM80 720V724.75A4.75 4.75 0 0 1 75.25 720ZM520 840V844.75A4.75 4.75 0 0 1 515.25 840ZM1000 880V884.75A4.75 4.75 0 0 1 995.25 880Z" fill="#232227" stroke="none"/>
<path d="M1080 280V284.75A4.75 4.75 0 0 1 1075.25 280ZM1560 400V404.75A4.75 4.75 0 0 1 1555.25 400ZM2000 440V444.75A4.75 4.75 0 0 1 1995.25 440ZM40 720V715.25A4.75 4.75 0 0 1 44.75 720ZM480 760V755.25A4.75 4.75 0 0 1 484.75 760ZM640 840H635.25A4.75 4.75 0 0 1 640 835.25ZM2000 840H1995.25A4.75 4.75 0 0 1 2000 835.25ZM960 880V875.25A4.75 4.75 0 0 1 964.75 880ZM1960 880H1955.25A4.75 4.75 0 0 1 1960 875.25ZM1920 920H1915.25A4.75 4.75 0 0 1 1920 915.25Z" fill="#29282d" stroke="none"/>
<path d="M160 160H200M200 160H240M240 160H280M280 160H320M320 160H360M360 160H400M400 160H440M480 200H520M520 200H560M800 240H840M840 240H880M880 240H920M120 280H160M640 280H680M680 280H720M720 280H760M960 280H1000M1000 280H1040M80 320H120M1040 320H1080M1080 320H1120M1120 320H1160M1160 320H1200M1200 320H1240M1240 320H1280M1280 320H1320M1440 320H1480M1480 320H1520M40 360H80M1360 360H1400M1400 360H1440M1560 440H1600M1600 440H1640M1640 440H1680M1680 440H1720M1720 440H1760M1760 440H1800M1800 440H1840M1840 440H1880M1880 440H1920M1920 440H1960M1520 480H1560M1960 480H2000M1000 640H1040M160 160V200M160 200V240M160 240V280M120 280V320M80 320V360M1440 320V360M40 360V400M40 400V440M40 440V480M1560 440V480M40 480V520M40 520V560M1040 520V560M40 560V600M1040 560V600M40 600V640M1040 600V640M40 640V680M80 680V720M520 680V720M520 720V760M520 760V800M520 800V840M1000 840V880" stroke="#151419" stroke-width="2" stroke-linecap="butt"/>
<path d="M1000 520H1040M40 680H80M480 680H520M80 720H120M120 720H160M160 720H200M200 720H240M240 720H280M280 720H320M320 720H360M360 720H400M400 720H440M440 720H480M600 800H640M640 800H680M1960 800H2000M520 840H560M560 840H600M720 840H760M760 840H800M800 840H840M840 840H880M880 840H920M920 840H960M960 840H1000M1920 840H1960M1000 880H1040M1040 880H1080M1280 880H1320M1320 880H1360M1360 880H1400M1880 880H1920M1120 920H1160M1160 920H1200M1200 920H1240M1480 960H1520M1520 960H1560M1600 1000H1640M1640 1000H1680M1680 1000H1720M1720 1000H1760M1760 1000H1800M1800 1000H1840M1840 1000H1880M1040 280V320M1520 320V360M1520 360V400M1520 400V440M1520 440V480M1960 440V480M2000 480V520M1000 520V560M2000 520V560M1000 560V600M2000 560V600M1000 600V640M2000 600V640M2000 640V680M480 680V699M2000 680V720M2000 720V760M2000 760V779M600 800V819M1960 800V819M1920 840V859M1880 880V920M1880 920V960M1880 960V979" stroke="#29282d" stroke-width="2" stroke-linecap="butt"/>
<path d="M437.80 117.80L482.20 162.20M557.80 157.80L602.20 202.20M597.80 197.80L642.20 242.20M917.80 197.80L962.20 242.20M1317.80 277.80L1362.20 322.20M677.80 797.80L722.20 842.20M1077.80 877.80L1122.20 922.20M1397.80 877.80L1442.20 922.20M1437.80 917.80L1482.20 962.20M1557.80 957.80L1602.20 1002.20" stroke="#2a292e" stroke-width="11" stroke-linecap="butt"/>
<path d="M757.80 282.20L802.20 237.80M1237.80 962.20L1282.20 917.80" stroke="#1b1a1f" stroke-width="10" stroke-linecap="butt"/>
<path d="M437.80 157.80L482.20 202.20M557.80 197.80L602.20 242.20M597.80 237.80L642.20 282.20M917.80 237.80L962.20 282.20M1317.80 317.80L1362.20 362.20M677.80 837.80L722.20 882.20M1077.80 917.80L1122.20 962.20M1397.80 917.80L1442.20 962.20M1437.80 957.80L1482.20 1002.20M1557.80 997.80L1602.20 1042.20" stroke="#27262b" stroke-width="10" stroke-linecap="butt"/>
<path d="M757.80 242.20L802.20 197.80M1237.80 922.20L1282.20 877.80" stroke="#2f2e33" stroke-width="7" stroke-linecap="butt"/>
<path d="M437.80 117.80L482.20 162.20M437.80 157.80L482.20 202.20M557.80 157.80L602.20 202.20M557.80 197.80L602.20 242.20M597.80 197.80L642.20 242.20M917.80 197.80L962.20 242.20M597.80 237.80L642.20 282.20M757.80 282.20L802.20 237.80M917.80 237.80L962.20 282.20M1317.80 277.80L1362.20 322.20M1317.80 317.80L1362.20 362.20M677.80 797.80L722.20 842.20M677.80 837.80L722.20 882.20M1077.80 877.80L1122.20 922.20M1397.80 877.80L1442.20 922.20M1077.80 917.80L1122.20 962.20M1237.80 962.20L1282.20 917.80M1397.80 917.80L1442.20 962.20M1437.80 917.80L1482.20 962.20M1437.80 957.80L1482.20 1002.20M1557.80 957.80L1602.20 1002.20M1557.80 997.80L1602.20 1042.20" stroke="#131217" stroke-width="2" stroke-linecap="butt"/>
</g>
<rect x="133.5" y="234.5" width="7" height="26" rx="3" fill="none" stroke="#575659" stroke-width="0.8"/>
<rect x="135" y="236" width="4.2" height="23" rx="2" fill="#1e1d22"/>
<rect x="93.5" y="274.5" width="7" height="26" rx="3" fill="none" stroke="#575659" stroke-width="0.8"/>
<rect x="95" y="276" width="4.2" height="23" rx="2" fill="#1e1d22"/>
<rect x="53.5" y="314.5" width="7" height="26" rx="3" fill="none" stroke="#575659" stroke-width="0.8"/>
<rect x="55" y="316" width="4.2" height="23" rx="2" fill="#1e1d22"/>
<rect x="1413.5" y="314.5" width="7" height="26" rx="3" fill="none" stroke="#575659" stroke-width="0.8"/>
<rect x="1415" y="316" width="4.2" height="23" rx="2" fill="#1e1d22"/>
<rect x="493.5" y="714.5" width="7" height="26" rx="3" fill="none" stroke="#575659" stroke-width="0.8"/>
<rect x="495" y="716" width="4.2" height="23" rx="2" fill="#1e1d22"/>
<rect x="2013.5" y="794.5" width="7" height="26" rx="3" fill="none" stroke="#575659" stroke-width="0.8"/>
<rect x="2015" y="796" width="4.2" height="23" rx="2" fill="#1e1d22"/>
<rect x="613.5" y="834.5" width="7" height="26" rx="3" fill="none" stroke="#575659" stroke-width="0.8"/>
<rect x="615" y="836" width="4.2" height="23" rx="2" fill="#1e1d22"/>
<rect x="1973.5" y="834.5" width="7" height="26" rx="3" fill="none" stroke="#575659" stroke-width="0.8"/>
<rect x="1975" y="836" width="4.2" height="23" rx="2" fill="#1e1d22"/>
<rect x="1933.5" y="874.5" width="7" height="26" rx="3" fill="none" stroke="#575659" stroke-width="0.8"/>
<rect x="1935" y="876" width="4.2" height="23" rx="2" fill="#1e1d22"/>
<rect x="1893.5" y="994.5" width="7" height="26" rx="3" fill="none" stroke="#575659" stroke-width="0.8"/>
<rect x="1895" y="996" width="4.2" height="23" rx="2" fill="#1e1d22"/>
<g transform="translate(1520,480)"><rect width="40" height="40" fill="#87868b"/><rect width="40" height="1.2" fill="#9d9ca1"/><rect width="1" height="40" fill="#727176"/><rect x="1" width="1" height="40" fill="#939297"/><rect x="37" width="1.5" height="40" fill="#727176"/><rect x="38.5" width="1.5" height="40" fill="#5c5b60"/><rect y="37" width="40" height="1.5" fill="#737277"/><rect y="38.5" width="40" height="1.5" fill="#5a595e"/><circle cx="11.85" cy="11.85" r="3.6" fill="none" stroke="#7c7b80" stroke-width="0.7"/><circle cx="28.5" cy="11.85" r="3.6" fill="none" stroke="#7c7b80" stroke-width="0.7"/><circle cx="11.85" cy="28.5" r="3.6" fill="none" stroke="#7c7b80" stroke-width="0.7"/><circle cx="28.5" cy="28.5" r="3.6" fill="none" stroke="#7c7b80" stroke-width="0.7"/><circle cx="6.30" cy="6.30" r="1.5" fill="#4c4b50"/><circle cx="6.30" cy="11.85" r="1.5" fill="#4c4b50"/><circle cx="6.30" cy="17.40" r="1.5" fill="#4c4b50"/><circle cx="6.30" cy="22.95" r="1.5" fill="#4c4b50"/><circle cx="6.30" cy="28.50" r="1.5" fill="#4c4b50"/><circle cx="6.30" cy="34.05" r="1.5" fill="#4c4b50"/><circle cx="11.85" cy="6.30" r="1.5" fill="#4c4b50"/><circle cx="11.85" cy="11.85" r="1.5" fill="#4c4b50"/><circle cx="11.85" cy="17.40" r="1.5" fill="#4c4b50"/><circle cx="11.85" cy="22.95" r="1.5" fill="#4c4b50"/><circle cx="11.85" cy="28.50" r="1.5" fill="#4c4b50"/><circle cx="11.85" cy="34.05" r="1.5" fill="#4c4b50"/><circle cx="17.40" cy="6.30" r="1.5" fill="#4c4b50"/><circle cx="17.40" cy="11.85" r="1.5" fill="#4c4b50"/><circle cx="17.40" cy="17.40" r="1.5" fill="#4c4b50"/><circle cx="17.40" cy="22.95" r="1.5" fill="#4c4b50"/><circle cx="17.40" cy="28.50" r="1.5" fill="#4c4b50"/><circle cx="17.40" cy="34.05" r="1.5" fill="#4c4b50"/><circle cx="22.95" cy="6.30" r="1.5" fill="#4c4b50"/><circle cx="22.95" cy="11.85" r="1.5" fill="#4c4b50"/><circle cx="22.95" cy="17.40" r="1.5" fill="#4c4b50"/><circle cx="22.95" cy="22.95" r="1.5" fill="#4c4b50"/><circle cx="22.95" cy="28.50" r="1.5" fill="#4c4b50"/><circle cx="22.95" cy="34.05" r="1.5" fill="#4c4b50"/><circle cx="28.50" cy="6.30" r="1.5" fill="#4c4b50"/><circle cx="28.50" cy="11.85" r="1.5" fill="#4c4b50"/><circle cx="28.50" cy="17.40" r="1.5" fill="#4c4b50"/><circle cx="28.50" cy="22.95" r="1.5" fill="#4c4b50"/><circle cx="28.50" cy="28.50" r="1.5" fill="#4c4b50"/><circle cx="28.50" cy="34.05" r="1.5" fill="#4c4b50"/><circle cx="34.05" cy="6.30" r="1.5" fill="#4c4b50"/><circle cx="34.05" cy="11.85" r="1.5" fill="#4c4b50"/><circle cx="34.05" cy="17.40" r="1.5" fill="#4c4b50"/><circle cx="34.05" cy="22.95" r="1.5" fill="#4c4b50"/><circle cx="34.05" cy="28.50" r="1.5" fill="#4c4b50"/><circle cx="34.05" cy="34.05" r="1.5" fill="#4c4b50"/></g>
<g transform="translate(480,520)"><rect width="40" height="40" fill="#87868b"/><rect width="40" height="1.2" fill="#9d9ca1"/><rect width="1" height="40" fill="#727176"/><rect x="1" width="1" height="40" fill="#939297"/><rect x="37" width="1.5" height="40" fill="#727176"/><rect x="38.5" width="1.5" height="40" fill="#5c5b60"/><rect y="37" width="40" height="1.5" fill="#737277"/><rect y="38.5" width="40" height="1.5" fill="#5a595e"/><circle cx="11.85" cy="11.85" r="3.6" fill="none" stroke="#7c7b80" stroke-width="0.7"/><circle cx="28.5" cy="11.85" r="3.6" fill="none" stroke="#7c7b80" stroke-width="0.7"/><circle cx="11.85" cy="28.5" r="3.6" fill="none" stroke="#7c7b80" stroke-width="0.7"/><circle cx="28.5" cy="28.5" r="3.6" fill="none" stroke="#7c7b80" stroke-width="0.7"/><circle cx="6.30" cy="6.30" r="1.5" fill="#4c4b50"/><circle cx="6.30" cy="11.85" r="1.5" fill="#4c4b50"/><circle cx="6.30" cy="17.40" r="1.5" fill="#4c4b50"/><circle cx="6.30" cy="22.95" r="1.5" fill="#4c4b50"/><circle cx="6.30" cy="28.50" r="1.5" fill="#4c4b50"/><circle cx="6.30" cy="34.05" r="1.5" fill="#4c4b50"/><circle cx="11.85" cy="6.30" r="1.5" fill="#4c4b50"/><circle cx="11.85" cy="11.85" r="1.5" fill="#4c4b50"/><circle cx="11.85" cy="17.40" r="1.5" fill="#4c4b50"/><circle cx="11.85" cy="22.95" r="1.5" fill="#4c4b50"/><circle cx="11.85" cy="28.50" r="1.5" fill="#4c4b50"/><circle cx="11.85" cy="34.05" r="1.5" fill="#4c4b50"/><circle cx="17.40" cy="6.30" r="1.5" fill="#4c4b50"/><circle cx="17.40" cy="11.85" r="1.5" fill="#4c4b50"/><circle cx="17.40" cy="17.40" r="1.5" fill="#4c4b50"/><circle cx="17.40" cy="22.95" r="1.5" fill="#4c4b50"/><circle cx="17.40" cy="28.50" r="1.5" fill="#4c4b50"/><circle cx="17.40" cy="34.05" r="1.5" fill="#4c4b50"/><circle cx="22.95" cy="6.30" r="1.5" fill="#4c4b50"/><circle cx="22.95" cy="11.85" r="1.5" fill="#4c4b50"/><circle cx="22.95" cy="17.40" r="1.5" fill="#4c4b50"/><circle cx="22.95" cy="22.95" r="1.5" fill="#4c4b50"/><circle cx="22.95" cy="28.50" r="1.5" fill="#4c4b50"/><circle cx="22.95" cy="34.05" r="1.5" fill="#4c4b50"/><circle cx="28.50" cy="6.30" r="1.5" fill="#4c4b50"/><circle cx="28.50" cy="11.85" r="1.5" fill="#4c4b50"/><circle cx="28.50" cy="17.40" r="1.5" fill="#4c4b50"/><circle cx="28.50" cy="22.95" r="1.5" fill="#4c4b50"/><circle cx="28.50" cy="28.50" r="1.5" fill="#4c4b50"/><circle cx="28.50" cy="34.05" r="1.5" fill="#4c4b50"/><circle cx="34.05" cy="6.30" r="1.5" fill="#4c4b50"/><circle cx="34.05" cy="11.85" r="1.5" fill="#4c4b50"/><circle cx="34.05" cy="17.40" r="1.5" fill="#4c4b50"/><circle cx="34.05" cy="22.95" r="1.5" fill="#4c4b50"/><circle cx="34.05" cy="28.50" r="1.5" fill="#4c4b50"/><circle cx="34.05" cy="34.05" r="1.5" fill="#4c4b50"/></g>
<g transform="translate(1520,520)"><rect width="40" height="40" fill="#87868b"/><rect width="40" height="1.2" fill="#9d9ca1"/><rect width="1" height="40" fill="#727176"/><rect x="1" width="1" height="40" fill="#939297"/><rect x="37" width="1.5" height="40" fill="#727176"/><rect x="38.5" width="1.5" height="40" fill="#5c5b60"/><rect y="37" width="40" height="1.5" fill="#737277"/><rect y="38.5" width="40" height="1.5" fill="#5a595e"/><circle cx="11.85" cy="11.85" r="3.6" fill="none" stroke="#7c7b80" stroke-width="0.7"/><circle cx="28.5" cy="11.85" r="3.6" fill="none" stroke="#7c7b80" stroke-width="0.7"/><circle cx="11.85" cy="28.5" r="3.6" fill="none" stroke="#7c7b80" stroke-width="0.7"/><circle cx="28.5" cy="28.5" r="3.6" fill="none" stroke="#7c7b80" stroke-width="0.7"/><circle cx="6.30" cy="6.30" r="1.5" fill="#4c4b50"/><circle cx="6.30" cy="11.85" r="1.5" fill="#4c4b50"/><circle cx="6.30" cy="17.40" r="1.5" fill="#4c4b50"/><circle cx="6.30" cy="22.95" r="1.5" fill="#4c4b50"/><circle cx="6.30" cy="28.50" r="1.5" fill="#4c4b50"/><circle cx="6.30" cy="34.05" r="1.5" fill="#4c4b50"/><circle cx="11.85" cy="6.30" r="1.5" fill="#4c4b50"/><circle cx="11.85" cy="11.85" r="1.5" fill="#4c4b50"/><circle cx="11.85" cy="17.40" r="1.5" fill="#4c4b50"/><circle cx="11.85" cy="22.95" r="1.5" fill="#4c4b50"/><circle cx="11.85" cy="28.50" r="1.5" fill="#4c4b50"/><circle cx="11.85" cy="34.05" r="1.5" fill="#4c4b50"/><circle cx="17.40" cy="6.30" r="1.5" fill="#4c4b50"/><circle cx="17.40" cy="11.85" r="1.5" fill="#4c4b50"/><circle cx="17.40" cy="17.40" r="1.5" fill="#4c4b50"/><circle cx="17.40" cy="22.95" r="1.5" fill="#4c4b50"/><circle cx="17.40" cy="28.50" r="1.5" fill="#4c4b50"/><circle cx="17.40" cy="34.05" r="1.5" fill="#4c4b50"/><circle cx="22.95" cy="6.30" r="1.5" fill="#4c4b50"/><circle cx="22.95" cy="11.85" r="1.5" fill="#4c4b50"/><circle cx="22.95" cy="17.40" r="1.5" fill="#4c4b50"/><circle cx="22.95" cy="22.95" r="1.5" fill="#4c4b50"/><circle cx="22.95" cy="28.50" r="1.5" fill="#4c4b50"/><circle cx="22.95" cy="34.05" r="1.5" fill="#4c4b50"/><circle cx="28.50" cy="6.30" r="1.5" fill="#4c4b50"/><circle cx="28.50" cy="11.85" r="1.5" fill="#4c4b50"/><circle cx="28.50" cy="17.40" r="1.5" fill="#4c4b50"/><circle cx="28.50" cy="22.95" r="1.5" fill="#4c4b50"/><circle cx="28.50" cy="28.50" r="1.5" fill="#4c4b50"/><circle cx="28.50" cy="34.05" r="1.5" fill="#4c4b50"/><circle cx="34.05" cy="6.30" r="1.5" fill="#4c4b50"/><circle cx="34.05" cy="11.85" r="1.5" fill="#4c4b50"/><circle cx="34.05" cy="17.40" r="1.5" fill="#4c4b50"/><circle cx="34.05" cy="22.95" r="1.5" fill="#4c4b50"/><circle cx="34.05" cy="28.50" r="1.5" fill="#4c4b50"/><circle cx="34.05" cy="34.05" r="1.5" fill="#4c4b50"/></g>
<g transform="translate(480,560)"><rect width="40" height="40" fill="#87868b"/><rect width="40" height="1.2" fill="#9d9ca1"/><rect width="1" height="40" fill="#727176"/><rect x="1" width="1" height="40" fill="#939297"/><rect x="37" width="1.5" height="40" fill="#727176"/><rect x="38.5" width="1.5" height="40" fill="#5c5b60"/><rect y="37" width="40" height="1.5" fill="#737277"/><rect y="38.5" width="40" height="1.5" fill="#5a595e"/><circle cx="11.85" cy="11.85" r="3.6" fill="none" stroke="#7c7b80" stroke-width="0.7"/><circle cx="28.5" cy="11.85" r="3.6" fill="none" stroke="#7c7b80" stroke-width="0.7"/><circle cx="11.85" cy="28.5" r="3.6" fill="none" stroke="#7c7b80" stroke-width="0.7"/><circle cx="28.5" cy="28.5" r="3.6" fill="none" stroke="#7c7b80" stroke-width="0.7"/><circle cx="6.30" cy="6.30" r="1.5" fill="#4c4b50"/><circle cx="6.30" cy="11.85" r="1.5" fill="#4c4b50"/><circle cx="6.30" cy="17.40" r="1.5" fill="#4c4b50"/><circle cx="6.30" cy="22.95" r="1.5" fill="#4c4b50"/><circle cx="6.30" cy="28.50" r="1.5" fill="#4c4b50"/><circle cx="6.30" cy="34.05" r="1.5" fill="#4c4b50"/><circle cx="11.85" cy="6.30" r="1.5" fill="#4c4b50"/><circle cx="11.85" cy="11.85" r="1.5" fill="#4c4b50"/><circle cx="11.85" cy="17.40" r="1.5" fill="#4c4b50"/><circle cx="11.85" cy="22.95" r="1.5" fill="#4c4b50"/><circle cx="11.85" cy="28.50" r="1.5" fill="#4c4b50"/><circle cx="11.85" cy="34.05" r="1.5" fill="#4c4b50"/><circle cx="17.40" cy="6.30" r="1.5" fill="#4c4b50"/><circle cx="17.40" cy="11.85" r="1.5" fill="#4c4b50"/><circle cx="17.40" cy="17.40" r="1.5" fill="#4c4b50"/><circle cx="17.40" cy="22.95" r="1.5" fill="#4c4b50"/><circle cx="17.40" cy="28.50" r="1.5" fill="#4c4b50"/><circle cx="17.40" cy="34.05" r="1.5" fill="#4c4b50"/><circle cx="22.95" cy="6.30" r="1.5" fill="#4c4b50"/><circle cx="22.95" cy="11.85" r="1.5" fill="#4c4b50"/><circle cx="22.95" cy="17.40" r="1.5" fill="#4c4b50"/><circle cx="22.95" cy="22.95" r="1.5" fill="#4c4b50"/><circle cx="22.95" cy="28.50" r="1.5" fill="#4c4b50"/><circle cx="22.95" cy="34.05" r="1.5" fill="#4c4b50"/><circle cx="28.50" cy="6.30" r="1.5" fill="#4c4b50"/><circle cx="28.50" cy="11.85" r="1.5" fill="#4c4b50"/><circle cx="28.50" cy="17.40" r="1.5" fill="#4c4b50"/><circle cx="28.50" cy="22.95" r="1.5" fill="#4c4b50"/><circle cx="28.50" cy="28.50" r="1.5" fill="#4c4b50"/><circle cx="28.50" cy="34.05" r="1.5" fill="#4c4b50"/><circle cx="34.05" cy="6.30" r="1.5" fill="#4c4b50"/><circle cx="34.05" cy="11.85" r="1.5" fill="#4c4b50"/><circle cx="34.05" cy="17.40" r="1.5" fill="#4c4b50"/><circle cx="34.05" cy="22.95" r="1.5" fill="#4c4b50"/><circle cx="34.05" cy="28.50" r="1.5" fill="#4c4b50"/><circle cx="34.05" cy="34.05" r="1.5" fill="#4c4b50"/></g>
<g transform="translate(1520,560)"><rect width="40" height="40" fill="#87868b"/><rect width="40" height="1.2" fill="#9d9ca1"/><rect width="1" height="40" fill="#727176"/><rect x="1" width="1" height="40" fill="#939297"/><rect x="37" width="1.5" height="40" fill="#727176"/><rect x="38.5" width="1.5" height="40" fill="#5c5b60"/><rect y="37" width="40" height="1.5" fill="#737277"/><rect y="38.5" width="40" height="1.5" fill="#5a595e"/><circle cx="11.85" cy="11.85" r="3.6" fill="none" stroke="#7c7b80" stroke-width="0.7"/><circle cx="28.5" cy="11.85" r="3.6" fill="none" stroke="#7c7b80" stroke-width="0.7"/><circle cx="11.85" cy="28.5" r="3.6" fill="none" stroke="#7c7b80" stroke-width="0.7"/><circle cx="28.5" cy="28.5" r="3.6" fill="none" stroke="#7c7b80" stroke-width="0.7"/><circle cx="6.30" cy="6.30" r="1.5" fill="#4c4b50"/><circle cx="6.30" cy="11.85" r="1.5" fill="#4c4b50"/><circle cx="6.30" cy="17.40" r="1.5" fill="#4c4b50"/><circle cx="6.30" cy="22.95" r="1.5" fill="#4c4b50"/><circle cx="6.30" cy="28.50" r="1.5" fill="#4c4b50"/><circle cx="6.30" cy="34.05" r="1.5" fill="#4c4b50"/><circle cx="11.85" cy="6.30" r="1.5" fill="#4c4b50"/><circle cx="11.85" cy="11.85" r="1.5" fill="#4c4b50"/><circle cx="11.85" cy="17.40" r="1.5" fill="#4c4b50"/><circle cx="11.85" cy="22.95" r="1.5" fill="#4c4b50"/><circle cx="11.85" cy="28.50" r="1.5" fill="#4c4b50"/><circle cx="11.85" cy="34.05" r="1.5" fill="#4c4b50"/><circle cx="17.40" cy="6.30" r="1.5" fill="#4c4b50"/><circle cx="17.40" cy="11.85" r="1.5" fill="#4c4b50"/><circle cx="17.40" cy="17.40" r="1.5" fill="#4c4b50"/><circle cx="17.40" cy="22.95" r="1.5" fill="#4c4b50"/><circle cx="17.40" cy="28.50" r="1.5" fill="#4c4b50"/><circle cx="17.40" cy="34.05" r="1.5" fill="#4c4b50"/><circle cx="22.95" cy="6.30" r="1.5" fill="#4c4b50"/><circle cx="22.95" cy="11.85" r="1.5" fill="#4c4b50"/><circle cx="22.95" cy="17.40" r="1.5" fill="#4c4b50"/><circle cx="22.95" cy="22.95" r="1.5" fill="#4c4b50"/><circle cx="22.95" cy="28.50" r="1.5" fill="#4c4b50"/><circle cx="22.95" cy="34.05" r="1.5" fill="#4c4b50"/><circle cx="28.50" cy="6.30" r="1.5" fill="#4c4b50"/><circle cx="28.50" cy="11.85" r="1.5" fill="#4c4b50"/><circle cx="28.50" cy="17.40" r="1.5" fill="#4c4b50"/><circle cx="28.50" cy="22.95" r="1.5" fill="#4c4b50"/><circle cx="28.50" cy="28.50" r="1.5" fill="#4c4b50"/><circle cx="28.50" cy="34.05" r="1.5" fill="#4c4b50"/><circle cx="34.05" cy="6.30" r="1.5" fill="#4c4b50"/><circle cx="34.05" cy="11.85" r="1.5" fill="#4c4b50"/><circle cx="34.05" cy="17.40" r="1.5" fill="#4c4b50"/><circle cx="34.05" cy="22.95" r="1.5" fill="#4c4b50"/><circle cx="34.05" cy="28.50" r="1.5" fill="#4c4b50"/><circle cx="34.05" cy="34.05" r="1.5" fill="#4c4b50"/></g>
<g transform="translate(480,600)"><rect width="40" height="40" fill="#87868b"/><rect width="40" height="1.2" fill="#9d9ca1"/><rect width="1" height="40" fill="#727176"/><rect x="1" width="1" height="40" fill="#939297"/><rect x="37" width="1.5" height="40" fill="#727176"/><rect x="38.5" width="1.5" height="40" fill="#5c5b60"/><rect y="37" width="40" height="1.5" fill="#737277"/><rect y="38.5" width="40" height="1.5" fill="#5a595e"/><circle cx="11.85" cy="11.85" r="3.6" fill="none" stroke="#7c7b80" stroke-width="0.7"/><circle cx="28.5" cy="11.85" r="3.6" fill="none" stroke="#7c7b80" stroke-width="0.7"/><circle cx="11.85" cy="28.5" r="3.6" fill="none" stroke="#7c7b80" stroke-width="0.7"/><circle cx="28.5" cy="28.5" r="3.6" fill="none" stroke="#7c7b80" stroke-width="0.7"/><circle cx="6.30" cy="6.30" r="1.5" fill="#4c4b50"/><circle cx="6.30" cy="11.85" r="1.5" fill="#4c4b50"/><circle cx="6.30" cy="17.40" r="1.5" fill="#4c4b50"/><circle cx="6.30" cy="22.95" r="1.5" fill="#4c4b50"/><circle cx="6.30" cy="28.50" r="1.5" fill="#4c4b50"/><circle cx="6.30" cy="34.05" r="1.5" fill="#4c4b50"/><circle cx="11.85" cy="6.30" r="1.5" fill="#4c4b50"/><circle cx="11.85" cy="11.85" r="1.5" fill="#4c4b50"/><circle cx="11.85" cy="17.40" r="1.5" fill="#4c4b50"/><circle cx="11.85" cy="22.95" r="1.5" fill="#4c4b50"/><circle cx="11.85" cy="28.50" r="1.5" fill="#4c4b50"/><circle cx="11.85" cy="34.05" r="1.5" fill="#4c4b50"/><circle cx="17.40" cy="6.30" r="1.5" fill="#4c4b50"/><circle cx="17.40" cy="11.85" r="1.5" fill="#4c4b50"/><circle cx="17.40" cy="17.40" r="1.5" fill="#4c4b50"/><circle cx="17.40" cy="22.95" r="1.5" fill="#4c4b50"/><circle cx="17.40" cy="28.50" r="1.5" fill="#4c4b50"/><circle cx="17.40" cy="34.05" r="1.5" fill="#4c4b50"/><circle cx="22.95" cy="6.30" r="1.5" fill="#4c4b50"/><circle cx="22.95" cy="11.85" r="1.5" fill="#4c4b50"/><circle cx="22.95" cy="17.40" r="1.5" fill="#4c4b50"/><circle cx="22.95" cy="22.95" r="1.5" fill="#4c4b50"/><circle cx="22.95" cy="28.50" r="1.5" fill="#4c4b50"/><circle cx="22.95" cy="34.05" r="1.5" fill="#4c4b50"/><circle cx="28.50" cy="6.30" r="1.5" fill="#4c4b50"/><circle cx="28.50" cy="11.85" r="1.5" fill="#4c4b50"/><circle cx="28.50" cy="17.40" r="1.5" fill="#4c4b50"/><circle cx="28.50" cy="22.95" r="1.5" fill="#4c4b50"/><circle cx="28.50" cy="28.50" r="1.5" fill="#4c4b50"/><circle cx="28.50" cy="34.05" r="1.5" fill="#4c4b50"/><circle cx="34.05" cy="6.30" r="1.5" fill="#4c4b50"/><circle cx="34.05" cy="11.85" r="1.5" fill="#4c4b50"/><circle cx="34.05" cy="17.40" r="1.5" fill="#4c4b50"/><circle cx="34.05" cy="22.95" r="1.5" fill="#4c4b50"/><circle cx="34.05" cy="28.50" r="1.5" fill="#4c4b50"/><circle cx="34.05" cy="34.05" r="1.5" fill="#4c4b50"/></g>
<g transform="translate(1520,600)"><rect width="40" height="40" fill="#87868b"/><rect width="40" height="1.2" fill="#9d9ca1"/><rect width="1" height="40" fill="#727176"/><rect x="1" width="1" height="40" fill="#939297"/><rect x="37" width="1.5" height="40" fill="#727176"/><rect x="38.5" width="1.5" height="40" fill="#5c5b60"/><rect y="37" width="40" height="1.5" fill="#737277"/><rect y="38.5" width="40" height="1.5" fill="#5a595e"/><circle cx="11.85" cy="11.85" r="3.6" fill="none" stroke="#7c7b80" stroke-width="0.7"/><circle cx="28.5" cy="11.85" r="3.6" fill="none" stroke="#7c7b80" stroke-width="0.7"/><circle cx="11.85" cy="28.5" r="3.6" fill="none" stroke="#7c7b80" stroke-width="0.7"/><circle cx="28.5" cy="28.5" r="3.6" fill="none" stroke="#7c7b80" stroke-width="0.7"/><circle cx="6.30" cy="6.30" r="1.5" fill="#4c4b50"/><circle cx="6.30" cy="11.85" r="1.5" fill="#4c4b50"/><circle cx="6.30" cy="17.40" r="1.5" fill="#4c4b50"/><circle cx="6.30" cy="22.95" r="1.5" fill="#4c4b50"/><circle cx="6.30" cy="28.50" r="1.5" fill="#4c4b50"/><circle cx="6.30" cy="34.05" r="1.5" fill="#4c4b50"/><circle cx="11.85" cy="6.30" r="1.5" fill="#4c4b50"/><circle cx="11.85" cy="11.85" r="1.5" fill="#4c4b50"/><circle cx="11.85" cy="17.40" r="1.5" fill="#4c4b50"/><circle cx="11.85" cy="22.95" r="1.5" fill="#4c4b50"/><circle cx="11.85" cy="28.50" r="1.5" fill="#4c4b50"/><circle cx="11.85" cy="34.05" r="1.5" fill="#4c4b50"/><circle cx="17.40" cy="6.30" r="1.5" fill="#4c4b50"/><circle cx="17.40" cy="11.85" r="1.5" fill="#4c4b50"/><circle cx="17.40" cy="17.40" r="1.5" fill="#4c4b50"/><circle cx="17.40" cy="22.95" r="1.5" fill="#4c4b50"/><circle cx="17.40" cy="28.50" r="1.5" fill="#4c4b50"/><circle cx="17.40" cy="34.05" r="1.5" fill="#4c4b50"/><circle cx="22.95" cy="6.30" r="1.5" fill="#4c4b50"/><circle cx="22.95" cy="11.85" r="1.5" fill="#4c4b50"/><circle cx="22.95" cy="17.40" r="1.5" fill="#4c4b50"/><circle cx="22.95" cy="22.95" r="1.5" fill="#4c4b50"/><circle cx="22.95" cy="28.50" r="1.5" fill="#4c4b50"/><circle cx="22.95" cy="34.05" r="1.5" fill="#4c4b50"/><circle cx="28.50" cy="6.30" r="1.5" fill="#4c4b50"/><circle cx="28.50" cy="11.85" r="1.5" fill="#4c4b50"/><circle cx="28.50" cy="17.40" r="1.5" fill="#4c4b50"/><circle cx="28.50" cy="22.95" r="1.5" fill="#4c4b50"/><circle cx="28.50" cy="28.50" r="1.5" fill="#4c4b50"/><circle cx="28.50" cy="34.05" r="1.5" fill="#4c4b50"/><circle cx="34.05" cy="6.30" r="1.5" fill="#4c4b50"/><circle cx="34.05" cy="11.85" r="1.5" fill="#4c4b50"/><circle cx="34.05" cy="17.40" r="1.5" fill="#4c4b50"/><circle cx="34.05" cy="22.95" r="1.5" fill="#4c4b50"/><circle cx="34.05" cy="28.50" r="1.5" fill="#4c4b50"/><circle cx="34.05" cy="34.05" r="1.5" fill="#4c4b50"/></g>
<g transform="translate(480,640)"><rect width="40" height="40" fill="#87868b"/><rect width="40" height="1.2" fill="#9d9ca1"/><rect width="1" height="40" fill="#727176"/><rect x="1" width="1" height="40" fill="#939297"/><rect x="37" width="1.5" height="40" fill="#727176"/><rect x="38.5" width="1.5" height="40" fill="#5c5b60"/><rect y="37" width="40" height="1.5" fill="#737277"/><rect y="38.5" width="40" height="1.5" fill="#5a595e"/><circle cx="11.85" cy="11.85" r="3.6" fill="none" stroke="#7c7b80" stroke-width="0.7"/><circle cx="28.5" cy="11.85" r="3.6" fill="none" stroke="#7c7b80" stroke-width="0.7"/><circle cx="11.85" cy="28.5" r="3.6" fill="none" stroke="#7c7b80" stroke-width="0.7"/><circle cx="28.5" cy="28.5" r="3.6" fill="none" stroke="#7c7b80" stroke-width="0.7"/><circle cx="6.30" cy="6.30" r="1.5" fill="#4c4b50"/><circle cx="6.30" cy="11.85" r="1.5" fill="#4c4b50"/><circle cx="6.30" cy="17.40" r="1.5" fill="#4c4b50"/><circle cx="6.30" cy="22.95" r="1.5" fill="#4c4b50"/><circle cx="6.30" cy="28.50" r="1.5" fill="#4c4b50"/><circle cx="6.30" cy="34.05" r="1.5" fill="#4c4b50"/><circle cx="11.85" cy="6.30" r="1.5" fill="#4c4b50"/><circle cx="11.85" cy="11.85" r="1.5" fill="#4c4b50"/><circle cx="11.85" cy="17.40" r="1.5" fill="#4c4b50"/><circle cx="11.85" cy="22.95" r="1.5" fill="#4c4b50"/><circle cx="11.85" cy="28.50" r="1.5" fill="#4c4b50"/><circle cx="11.85" cy="34.05" r="1.5" fill="#4c4b50"/><circle cx="17.40" cy="6.30" r="1.5" fill="#4c4b50"/><circle cx="17.40" cy="11.85" r="1.5" fill="#4c4b50"/><circle cx="17.40" cy="17.40" r="1.5" fill="#4c4b50"/><circle cx="17.40" cy="22.95" r="1.5" fill="#4c4b50"/><circle cx="17.40" cy="28.50" r="1.5" fill="#4c4b50"/><circle cx="17.40" cy="34.05" r="1.5" fill="#4c4b50"/><circle cx="22.95" cy="6.30" r="1.5" fill="#4c4b50"/><circle cx="22.95" cy="11.85" r="1.5" fill="#4c4b50"/><circle cx="22.95" cy="17.40" r="1.5" fill="#4c4b50"/><circle cx="22.95" cy="22.95" r="1.5" fill="#4c4b50"/><circle cx="22.95" cy="28.50" r="1.5" fill="#4c4b50"/><circle cx="22.95" cy="34.05" r="1.5" fill="#4c4b50"/><circle cx="28.50" cy="6.30" r="1.5" fill="#4c4b50"/><circle cx="28.50" cy="11.85" r="1.5" fill="#4c4b50"/><circle cx="28.50" cy="17.40" r="1.5" fill="#4c4b50"/><circle cx="28.50" cy="22.95" r="1.5" fill="#4c4b50"/><circle cx="28.50" cy="28.50" r="1.5" fill="#4c4b50"/><circle cx="28.50" cy="34.05" r="1.5" fill="#4c4b50"/><circle cx="34.05" cy="6.30" r="1.5" fill="#4c4b50"/><circle cx="34.05" cy="11.85" r="1.5" fill="#4c4b50"/><circle cx="34.05" cy="17.40" r="1.5" fill="#4c4b50"/><circle cx="34.05" cy="22.95" r="1.5" fill="#4c4b50"/><circle cx="34.05" cy="28.50" r="1.5" fill="#4c4b50"/><circle cx="34.05" cy="34.05" r="1.5" fill="#4c4b50"/></g>
<g transform="translate(240,200)"><rect width="40" height="40" fill="#e3e2e7" opacity="0.55"/><circle cx="20" cy="20" r="12" fill="#e8e9f0" stroke="#d4d4de" stroke-width="1.3"/><polygon points="17.60,10.00 15.10,8.20 20.00,4.40 24.90,8.20 22.40,10.00 22.40,17.60 30.00,17.60 31.80,15.10 35.60,20.00 31.80,24.90 30.00,22.40 22.40,22.40 22.40,30.00 24.90,31.80 20.00,35.60 15.10,31.80 17.60,30.00 17.60,22.40 10.00,22.40 8.20,24.90 4.40,20.00 8.20,15.10 10.00,17.60 17.60,17.60" fill="url(#bg)" stroke="url(#bg)" stroke-width="0.8" stroke-linejoin="round"/><path d="M18.9 7V33M21.1 7V33M7 18.9H33M7 21.1H33" stroke="#f8a040" stroke-opacity="0.35" stroke-width="0.7"/><circle cx="20" cy="20" r="2.4" fill="#f2c800" stroke="#f6a84a" stroke-width="0.9"/></g>
<g transform="translate(200,240)"><rect width="40" height="40" fill="#e3e2e7" opacity="0.55"/><circle cx="20" cy="20" r="12" fill="#e8e9f0" stroke="#d4d4de" stroke-width="1.3"/><polygon points="17.60,10.00 15.10,8.20 20.00,4.40 24.90,8.20 22.40,10.00 22.40,17.60 30.00,17.60 31.80,15.10 35.60,20.00 31.80,24.90 30.00,22.40 22.40,22.40 22.40,30.00 24.90,31.80 20.00,35.60 15.10,31.80 17.60,30.00 17.60,22.40 10.00,22.40 8.20,24.90 4.40,20.00 8.20,15.10 10.00,17.60 17.60,17.60" fill="url(#bg)" stroke="url(#bg)" stroke-width="0.8" stroke-linejoin="round"/><path d="M18.9 7V33M21.1 7V33M7 18.9H33M7 21.1H33" stroke="#f8a040" stroke-opacity="0.35" stroke-width="0.7"/><circle cx="20" cy="20" r="2.4" fill="#f2c800" stroke="#f6a84a" stroke-width="0.9"/></g>
<g transform="translate(800,240)"><rect width="40" height="40" fill="#e3e2e7" opacity="0.55"/><circle cx="20" cy="20" r="12" fill="#e8e9f0" stroke="#d4d4de" stroke-width="1.3"/><polygon points="17.60,10.00 15.10,8.20 20.00,4.40 24.90,8.20 22.40,10.00 22.40,17.60 30.00,17.60 31.80,15.10 35.60,20.00 31.80,24.90 30.00,22.40 22.40,22.40 22.40,30.00 24.90,31.80 20.00,35.60 15.10,31.80 17.60,30.00 17.60,22.40 10.00,22.40 8.20,24.90 4.40,20.00 8.20,15.10 10.00,17.60 17.60,17.60" fill="url(#bg)" stroke="url(#bg)" stroke-width="0.8" stroke-linejoin="round"/><path d="M18.9 7V33M21.1 7V33M7 18.9H33M7 21.1H33" stroke="#f8a040" stroke-opacity="0.35" stroke-width="0.7"/><circle cx="20" cy="20" r="2.4" fill="#f2c800" stroke="#f6a84a" stroke-width="0.9"/></g>
<g transform="translate(880,240)"><rect width="40" height="40" fill="#e3e2e7" opacity="0.55"/><circle cx="20" cy="20" r="12" fill="#e8e9f0" stroke="#d4d4de" stroke-width="1.3"/><polygon points="17.60,10.00 15.10,8.20 20.00,4.40 24.90,8.20 22.40,10.00 22.40,17.60 30.00,17.60 31.80,15.10 35.60,20.00 31.80,24.90 30.00,22.40 22.40,22.40 22.40,30.00 24.90,31.80 20.00,35.60 15.10,31.80 17.60,30.00 17.60,22.40 10.00,22.40 8.20,24.90 4.40,20.00 8.20,15.10 10.00,17.60 17.60,17.60" fill="url(#bg)" stroke="url(#bg)" stroke-width="0.8" stroke-linejoin="round"/><path d="M18.9 7V33M21.1 7V33M7 18.9H33M7 21.1H33" stroke="#f8a040" stroke-opacity="0.35" stroke-width="0.7"/><circle cx="20" cy="20" r="2.4" fill="#f2c800" stroke="#f6a84a" stroke-width="0.9"/></g>
<g transform="translate(120,560)"><rect width="40" height="40" fill="#e3e2e7" opacity="0.55"/><circle cx="20" cy="20" r="12" fill="#e8e9f0" stroke="#d4d4de" stroke-width="1.3"/><polygon points="17.60,10.00 15.10,8.20 20.00,4.40 24.90,8.20 22.40,10.00 22.40,17.60 30.00,17.60 31.80,15.10 35.60,20.00 31.80,24.90 30.00,22.40 22.40,22.40 22.40,30.00 24.90,31.80 20.00,35.60 15.10,31.80 17.60,30.00 17.60,22.40 10.00,22.40 8.20,24.90 4.40,20.00 8.20,15.10 10.00,17.60 17.60,17.60" fill="url(#bg)" stroke="url(#bg)" stroke-width="0.8" stroke-linejoin="round"/><path d="M18.9 7V33M21.1 7V33M7 18.9H33M7 21.1H33" stroke="#f8a040" stroke-opacity="0.35" stroke-width="0.7"/><circle cx="20" cy="20" r="2.4" fill="#f2c800" stroke="#f6a84a" stroke-width="0.9"/></g>
<g transform="translate(1880,560)"><rect width="40" height="40" fill="#e3e2e7" opacity="0.55"/><circle cx="20" cy="20" r="12" fill="#e8e9f0" stroke="#d4d4de" stroke-width="1.3"/><polygon points="17.60,10.00 15.10,8.20 20.00,4.40 24.90,8.20 22.40,10.00 22.40,17.60 30.00,17.60 31.80,15.10 35.60,20.00 31.80,24.90 30.00,22.40 22.40,22.40 22.40,30.00 24.90,31.80 20.00,35.60 15.10,31.80 17.60,30.00 17.60,22.40 10.00,22.40 8.20,24.90 4.40,20.00 8.20,15.10 10.00,17.60 17.60,17.60" fill="url(#bg)" stroke="url(#bg)" stroke-width="0.8" stroke-linejoin="round"/><path d="M18.9 7V33M21.1 7V33M7 18.9H33M7 21.1H33" stroke="#f8a040" stroke-opacity="0.35" stroke-width="0.7"/><circle cx="20" cy="20" r="2.4" fill="#f2c800" stroke="#f6a84a" stroke-width="0.9"/></g>
<g transform="translate(1120,880)"><rect width="40" height="40" fill="#e3e2e7" opacity="0.55"/><circle cx="20" cy="20" r="12" fill="#e8e9f0" stroke="#d4d4de" stroke-width="1.3"/><polygon points="17.60,10.00 15.10,8.20 20.00,4.40 24.90,8.20 22.40,10.00 22.40,17.60 30.00,17.60 31.80,15.10 35.60,20.00 31.80,24.90 30.00,22.40 22.40,22.40 22.40,30.00 24.90,31.80 20.00,35.60 15.10,31.80 17.60,30.00 17.60,22.40 10.00,22.40 8.20,24.90 4.40,20.00 8.20,15.10 10.00,17.60 17.60,17.60" fill="url(#bg)" stroke="url(#bg)" stroke-width="0.8" stroke-linejoin="round"/><path d="M18.9 7V33M21.1 7V33M7 18.9H33M7 21.1H33" stroke="#f8a040" stroke-opacity="0.35" stroke-width="0.7"/><circle cx="20" cy="20" r="2.4" fill="#f2c800" stroke="#f6a84a" stroke-width="0.9"/></g>
<g transform="translate(1200,880)"><rect width="40" height="40" fill="#e3e2e7" opacity="0.55"/><circle cx="20" cy="20" r="12" fill="#e8e9f0" stroke="#d4d4de" stroke-width="1.3"/><polygon points="17.60,10.00 15.10,8.20 20.00,4.40 24.90,8.20 22.40,10.00 22.40,17.60 30.00,17.60 31.80,15.10 35.60,20.00 31.80,24.90 30.00,22.40 22.40,22.40 22.40,30.00 24.90,31.80 20.00,35.60 15.10,31.80 17.60,30.00 17.60,22.40 10.00,22.40 8.20,24.90 4.40,20.00 8.20,15.10 10.00,17.60 17.60,17.60" fill="url(#bg)" stroke="url(#bg)" stroke-width="0.8" stroke-linejoin="round"/><path d="M18.9 7V33M21.1 7V33M7 18.9H33M7 21.1H33" stroke="#f8a040" stroke-opacity="0.35" stroke-width="0.7"/><circle cx="20" cy="20" r="2.4" fill="#f2c800" stroke="#f6a84a" stroke-width="0.9"/></g>
<g transform="translate(1800,880)"><rect width="40" height="40" fill="#e3e2e7" opacity="0.55"/><circle cx="20" cy="20" r="12" fill="#e8e9f0" stroke="#d4d4de" stroke-width="1.3"/><polygon points="17.60,10.00 15.10,8.20 20.00,4.40 24.90,8.20 22.40,10.00 22.40,17.60 30.00,17.60 31.80,15.10 35.60,20.00 31.80,24.90 30.00,22.40 22.40,22.40 22.40,30.00 24.90,31.80 20.00,35.60 15.10,31.80 17.60,30.00 17.60,22.40 10.00,22.40 8.20,24.90 4.40,20.00 8.20,15.10 10.00,17.60 17.60,17.60" fill="url(#bg)" stroke="url(#bg)" stroke-width="0.8" stroke-linejoin="round"/><path d="M18.9 7V33M21.1 7V33M7 18.9H33M7 21.1H33" stroke="#f8a040" stroke-opacity="0.35" stroke-width="0.7"/><circle cx="20" cy="20" r="2.4" fill="#f2c800" stroke="#f6a84a" stroke-width="0.9"/></g>
<g transform="translate(1760,920)"><rect width="40" height="40" fill="#e3e2e7" opacity="0.55"/><circle cx="20" cy="20" r="12" fill="#e8e9f0" stroke="#d4d4de" stroke-width="1.3"/><polygon points="17.60,10.00 15.10,8.20 20.00,4.40 24.90,8.20 22.40,10.00 22.40,17.60 30.00,17.60 31.80,15.10 35.60,20.00 31.80,24.90 30.00,22.40 22.40,22.40 22.40,30.00 24.90,31.80 20.00,35.60 15.10,31.80 17.60,30.00 17.60,22.40 10.00,22.40 8.20,24.90 4.40,20.00 8.20,15.10 10.00,17.60 17.60,17.60" fill="url(#bg)" stroke="url(#bg)" stroke-width="0.8" stroke-linejoin="round"/><path d="M18.9 7V33M21.1 7V33M7 18.9H33M7 21.1H33" stroke="#f8a040" stroke-opacity="0.35" stroke-width="0.7"/><circle cx="20" cy="20" r="2.4" fill="#f2c800" stroke="#f6a84a" stroke-width="0.9"/></g>
<g transform="translate(1440,320)"><rect width="40" height="40" fill="#e5e4e9" opacity="0.75"/><circle cx="20" cy="20" r="15.5" fill="none" stroke="#f4f4f8" stroke-width="2.5" opacity="0.6"/><polygon points="17.95,9.70 18.57,9.60 20.00,6.10 21.43,9.60 22.05,9.70 22.66,9.84 25.32,7.16 25.30,10.93 25.83,11.27 26.35,11.64 29.83,10.17 28.36,13.65 28.73,14.17 29.07,14.70 32.84,14.68 30.16,17.34 30.30,17.95 30.40,18.57 33.90,20.00 30.40,21.43 30.30,22.05 30.16,22.66 32.84,25.32 29.07,25.30 28.73,25.83 28.36,26.35 29.83,29.83 26.35,28.36 25.83,28.73 25.30,29.07 25.32,32.84 22.66,30.16 22.05,30.30 21.43,30.40 20.00,33.90 18.57,30.40 17.95,30.30 17.34,30.16 14.68,32.84 14.70,29.07 14.17,28.73 13.65,28.36 10.17,29.83 11.64,26.35 11.27,25.83 10.93,25.30 7.16,25.32 9.84,22.66 9.70,22.05 9.60,21.43 6.10,20.00 9.60,18.57 9.70,17.95 9.84,17.34 7.16,14.68 10.93,14.70 11.27,14.17 11.64,13.65 10.17,10.17 13.65,11.64 14.17,11.27 14.70,10.93 14.68,7.16 17.34,9.84" fill="#161616" stroke="#161616" stroke-width="0.6" stroke-linejoin="round"/><circle cx="20" cy="20" r="7.3" fill="none" stroke="#202020" stroke-width="0.8"/><circle cx="20" cy="20" r="4.2" fill="#e2e1e6"/></g>
<g transform="translate(1480,320)"><rect width="40" height="40" fill="#e5e4e9" opacity="0.75"/><circle cx="20" cy="20" r="15.5" fill="none" stroke="#f4f4f8" stroke-width="2.5" opacity="0.6"/><polygon points="17.95,9.70 18.57,9.60 20.00,6.10 21.43,9.60 22.05,9.70 22.66,9.84 25.32,7.16 25.30,10.93 25.83,11.27 26.35,11.64 29.83,10.17 28.36,13.65 28.73,14.17 29.07,14.70 32.84,14.68 30.16,17.34 30.30,17.95 30.40,18.57 33.90,20.00 30.40,21.43 30.30,22.05 30.16,22.66 32.84,25.32 29.07,25.30 28.73,25.83 28.36,26.35 29.83,29.83 26.35,28.36 25.83,28.73 25.30,29.07 25.32,32.84 22.66,30.16 22.05,30.30 21.43,30.40 20.00,33.90 18.57,30.40 17.95,30.30 17.34,30.16 14.68,32.84 14.70,29.07 14.17,28.73 13.65,28.36 10.17,29.83 11.64,26.35 11.27,25.83 10.93,25.30 7.16,25.32 9.84,22.66 9.70,22.05 9.60,21.43 6.10,20.00 9.60,18.57 9.70,17.95 9.84,17.34 7.16,14.68 10.93,14.70 11.27,14.17 11.64,13.65 10.17,10.17 13.65,11.64 14.17,11.27 14.70,10.93 14.68,7.16 17.34,9.84" fill="#161616" stroke="#161616" stroke-width="0.6" stroke-linejoin="round"/><circle cx="20" cy="20" r="7.3" fill="none" stroke="#202020" stroke-width="0.8"/><circle cx="20" cy="20" r="4.2" fill="#e2e1e6"/></g>
<g transform="translate(1480,360)"><rect width="40" height="40" fill="#e5e4e9" opacity="0.75"/><circle cx="20" cy="20" r="15.5" fill="none" stroke="#f4f4f8" stroke-width="2.5" opacity="0.6"/><polygon points="17.95,9.70 18.57,9.60 20.00,6.10 21.43,9.60 22.05,9.70 22.66,9.84 25.32,7.16 25.30,10.93 25.83,11.27 26.35,11.64 29.83,10.17 28.36,13.65 28.73,14.17 29.07,14.70 32.84,14.68 30.16,17.34 30.30,17.95 30.40,18.57 33.90,20.00 30.40,21.43 30.30,22.05 30.16,22.66 32.84,25.32 29.07,25.30 28.73,25.83 28.36,26.35 29.83,29.83 26.35,28.36 25.83,28.73 25.30,29.07 25.32,32.84 22.66,30.16 22.05,30.30 21.43,30.40 20.00,33.90 18.57,30.40 17.95,30.30 17.34,30.16 14.68,32.84 14.70,29.07 14.17,28.73 13.65,28.36 10.17,29.83 11.64,26.35 11.27,25.83 10.93,25.30 7.16,25.32 9.84,22.66 9.70,22.05 9.60,21.43 6.10,20.00 9.60,18.57 9.70,17.95 9.84,17.34 7.16,14.68 10.93,14.70 11.27,14.17 11.64,13.65 10.17,10.17 13.65,11.64 14.17,11.27 14.70,10.93 14.68,7.16 17.34,9.84" fill="#161616" stroke="#161616" stroke-width="0.6" stroke-linejoin="round"/><circle cx="20" cy="20" r="7.3" fill="none" stroke="#202020" stroke-width="0.8"/><circle cx="20" cy="20" r="4.2" fill="#e2e1e6"/></g>
<g transform="translate(720,440)"><rect width="40" height="40" fill="#e5e4e9" opacity="0.75"/><circle cx="20" cy="20" r="15.5" fill="none" stroke="#f4f4f8" stroke-width="2.5" opacity="0.6"/><polygon points="17.95,9.70 18.57,9.60 20.00,6.10 21.43,9.60 22.05,9.70 22.66,9.84 25.32,7.16 25.30,10.93 25.83,11.27 26.35,11.64 29.83,10.17 28.36,13.65 28.73,14.17 29.07,14.70 32.84,14.68 30.16,17.34 30.30,17.95 30.40,18.57 33.90,20.00 30.40,21.43 30.30,22.05 30.16,22.66 32.84,25.32 29.07,25.30 28.73,25.83 28.36,26.35 29.83,29.83 26.35,28.36 25.83,28.73 25.30,29.07 25.32,32.84 22.66,30.16 22.05,30.30 21.43,30.40 20.00,33.90 18.57,30.40 17.95,30.30 17.34,30.16 14.68,32.84 14.70,29.07 14.17,28.73 13.65,28.36 10.17,29.83 11.64,26.35 11.27,25.83 10.93,25.30 7.16,25.32 9.84,22.66 9.70,22.05 9.60,21.43 6.10,20.00 9.60,18.57 9.70,17.95 9.84,17.34 7.16,14.68 10.93,14.70 11.27,14.17 11.64,13.65 10.17,10.17 13.65,11.64 14.17,11.27 14.70,10.93 14.68,7.16 17.34,9.84" fill="#161616" stroke="#161616" stroke-width="0.6" stroke-linejoin="round"/><circle cx="20" cy="20" r="7.3" fill="none" stroke="#202020" stroke-width="0.8"/><circle cx="20" cy="20" r="4.2" fill="#e2e1e6"/></g>
<g transform="translate(1280,680)"><rect width="40" height="40" fill="#e5e4e9" opacity="0.75"/><circle cx="20" cy="20" r="15.5" fill="none" stroke="#f4f4f8" stroke-width="2.5" opacity="0.6"/><polygon points="17.95,9.70 18.57,9.60 20.00,6.10 21.43,9.60 22.05,9.70 22.66,9.84 25.32,7.16 25.30,10.93 25.83,11.27 26.35,11.64 29.83,10.17 28.36,13.65 28.73,14.17 29.07,14.70 32.84,14.68 30.16,17.34 30.30,17.95 30.40,18.57 33.90,20.00 30.40,21.43 30.30,22.05 30.16,22.66 32.84,25.32 29.07,25.30 28.73,25.83 28.36,26.35 29.83,29.83 26.35,28.36 25.83,28.73 25.30,29.07 25.32,32.84 22.66,30.16 22.05,30.30 21.43,30.40 20.00,33.90 18.57,30.40 17.95,30.30 17.34,30.16 14.68,32.84 14.70,29.07 14.17,28.73 13.65,28.36 10.17,29.83 11.64,26.35 11.27,25.83 10.93,25.30 7.16,25.32 9.84,22.66 9.70,22.05 9.60,21.43 6.10,20.00 9.60,18.57 9.70,17.95 9.84,17.34 7.16,14.68 10.93,14.70 11.27,14.17 11.64,13.65 10.17,10.17 13.65,11.64 14.17,11.27 14.70,10.93 14.68,7.16 17.34,9.84" fill="#161616" stroke="#161616" stroke-width="0.6" stroke-linejoin="round"/><circle cx="20" cy="20" r="7.3" fill="none" stroke="#202020" stroke-width="0.8"/><circle cx="20" cy="20" r="4.2" fill="#e2e1e6"/></g>
<g transform="translate(520,760)"><rect width="40" height="40" fill="#e5e4e9" opacity="0.75"/><circle cx="20" cy="20" r="15.5" fill="none" stroke="#f4f4f8" stroke-width="2.5" opacity="0.6"/><polygon points="17.95,9.70 18.57,9.60 20.00,6.10 21.43,9.60 22.05,9.70 22.66,9.84 25.32,7.16 25.30,10.93 25.83,11.27 26.35,11.64 29.83,10.17 28.36,13.65 28.73,14.17 29.07,14.70 32.84,14.68 30.16,17.34 30.30,17.95 30.40,18.57 33.90,20.00 30.40,21.43 30.30,22.05 30.16,22.66 32.84,25.32 29.07,25.30 28.73,25.83 28.36,26.35 29.83,29.83 26.35,28.36 25.83,28.73 25.30,29.07 25.32,32.84 22.66,30.16 22.05,30.30 21.43,30.40 20.00,33.90 18.57,30.40 17.95,30.30 17.34,30.16 14.68,32.84 14.70,29.07 14.17,28.73 13.65,28.36 10.17,29.83 11.64,26.35 11.27,25.83 10.93,25.30 7.16,25.32 9.84,22.66 9.70,22.05 9.60,21.43 6.10,20.00 9.60,18.57 9.70,17.95 9.84,17.34 7.16,14.68 10.93,14.70 11.27,14.17 11.64,13.65 10.17,10.17 13.65,11.64 14.17,11.27 14.70,10.93 14.68,7.16 17.34,9.84" fill="#161616" stroke="#161616" stroke-width="0.6" stroke-linejoin="round"/><circle cx="20" cy="20" r="7.3" fill="none" stroke="#202020" stroke-width="0.8"/><circle cx="20" cy="20" r="4.2" fill="#e2e1e6"/></g>
<g transform="translate(520,800)"><rect width="40" height="40" fill="#e5e4e9" opacity="0.75"/><circle cx="20" cy="20" r="15.5" fill="none" stroke="#f4f4f8" stroke-width="2.5" opacity="0.6"/><polygon points="17.95,9.70 18.57,9.60 20.00,6.10 21.43,9.60 22.05,9.70 22.66,9.84 25.32,7.16 25.30,10.93 25.83,11.27 26.35,11.64 29.83,10.17 28.36,13.65 28.73,14.17 29.07,14.70 32.84,14.68 30.16,17.34 30.30,17.95 30.40,18.57 33.90,20.00 30.40,21.43 30.30,22.05 30.16,22.66 32.84,25.32 29.07,25.30 28.73,25.83 28.36,26.35 29.83,29.83 26.35,28.36 25.83,28.73 25.30,29.07 25.32,32.84 22.66,30.16 22.05,30.30 21.43,30.40 20.00,33.90 18.57,30.40 17.95,30.30 17.34,30.16 14.68,32.84 14.70,29.07 14.17,28.73 13.65,28.36 10.17,29.83 11.64,26.35 11.27,25.83 10.93,25.30 7.16,25.32 9.84,22.66 9.70,22.05 9.60,21.43 6.10,20.00 9.60,18.57 9.70,17.95 9.84,17.34 7.16,14.68 10.93,14.70 11.27,14.17 11.64,13.65 10.17,10.17 13.65,11.64 14.17,11.27 14.70,10.93 14.68,7.16 17.34,9.84" fill="#161616" stroke="#161616" stroke-width="0.6" stroke-linejoin="round"/><circle cx="20" cy="20" r="7.3" fill="none" stroke="#202020" stroke-width="0.8"/><circle cx="20" cy="20" r="4.2" fill="#e2e1e6"/></g>
<g transform="translate(560,800)"><rect width="40" height="40" fill="#e5e4e9" opacity="0.75"/><circle cx="20" cy="20" r="15.5" fill="none" stroke="#f4f4f8" stroke-width="2.5" opacity="0.6"/><polygon points="17.95,9.70 18.57,9.60 20.00,6.10 21.43,9.60 22.05,9.70 22.66,9.84 25.32,7.16 25.30,10.93 25.83,11.27 26.35,11.64 29.83,10.17 28.36,13.65 28.73,14.17 29.07,14.70 32.84,14.68 30.16,17.34 30.30,17.95 30.40,18.57 33.90,20.00 30.40,21.43 30.30,22.05 30.16,22.66 32.84,25.32 29.07,25.30 28.73,25.83 28.36,26.35 29.83,29.83 26.35,28.36 25.83,28.73 25.30,29.07 25.32,32.84 22.66,30.16 22.05,30.30 21.43,30.40 20.00,33.90 18.57,30.40 17.95,30.30 17.34,30.16 14.68,32.84 14.70,29.07 14.17,28.73 13.65,28.36 10.17,29.83 11.64,26.35 11.27,25.83 10.93,25.30 7.16,25.32 9.84,22.66 9.70,22.05 9.60,21.43 6.10,20.00 9.60,18.57 9.70,17.95 9.84,17.34 7.16,14.68 10.93,14.70 11.27,14.17 11.64,13.65 10.17,10.17 13.65,11.64 14.17,11.27 14.70,10.93 14.68,7.16 17.34,9.84" fill="#161616" stroke="#161616" stroke-width="0.6" stroke-linejoin="round"/><circle cx="20" cy="20" r="7.3" fill="none" stroke="#202020" stroke-width="0.8"/><circle cx="20" cy="20" r="4.2" fill="#e2e1e6"/></g>
<g transform="translate(1000,480)"><rect width="40" height="40" fill="#e5e4e9" opacity="0.75"/><circle cx="20" cy="20" r="15.5" fill="none" stroke="#f4f4f8" stroke-width="2.5" opacity="0.6"/><circle cx="20" cy="20.3" r="13.3" fill="url(#bombg)" stroke="#0c0c0c" stroke-width="3"/><ellipse cx="14.6" cy="11.9" rx="5" ry="3.3" transform="rotate(-28 14.6 11.9)" fill="#ffffff" opacity="0.95"/><path d="M28.5 8.8 L31.5 6.8" stroke="#0c0c0c" stroke-width="3" stroke-linecap="round"/><circle cx="33.6" cy="5.8" r="2.1" fill="#f08a20"/></g>
<g transform="translate(1000,640)"><rect width="40" height="40" fill="#e5e4e9" opacity="0.75"/><circle cx="20" cy="20" r="15.5" fill="none" stroke="#f4f4f8" stroke-width="2.5" opacity="0.6"/><circle cx="20" cy="20.3" r="13.3" fill="url(#bombg)" stroke="#0c0c0c" stroke-width="3"/><ellipse cx="14.6" cy="11.9" rx="5" ry="3.3" transform="rotate(-28 14.6 11.9)" fill="#ffffff" opacity="0.95"/><path d="M28.5 8.8 L31.5 6.8" stroke="#0c0c0c" stroke-width="3" stroke-linecap="round"/><circle cx="33.6" cy="5.8" r="2.1" fill="#f08a20"/></g>
<g transform="translate(1360,400)"><rect width="40" height="40" fill="#e5e4e9" opacity="0.75"/><circle cx="20" cy="20" r="15.5" fill="none" stroke="#f4f4f8" stroke-width="2.5" opacity="0.6"/><circle cx="20" cy="20" r="13.5" fill="url(#pug)" stroke="#0a0a0a" stroke-width="3"/><polygon points="11,18 16.8,18 16.2,23.5" fill="#ffffff"/><polygon points="17.2,18 23.0,18 22.4,23.5" fill="#ffffff"/><polygon points="23.4,18 29.2,18 28.599999999999998,23.5" fill="#ffffff"/></g>
<g transform="translate(640,720)"><rect width="40" height="40" fill="#e5e4e9" opacity="0.75"/><circle cx="20" cy="20" r="15.5" fill="none" stroke="#f4f4f8" stroke-width="2.5" opacity="0.6"/><circle cx="20" cy="20" r="13.5" fill="url(#pug)" stroke="#0a0a0a" stroke-width="3"/><polygon points="11,18 16.8,18 16.2,23.5" fill="#ffffff"/><polygon points="17.2,18 23.0,18 22.4,23.5" fill="#ffffff"/><polygon points="23.4,18 29.2,18 28.599999999999998,23.5" fill="#ffffff"/></g>
<g transform="translate(480,480)"><circle cx="20" cy="20" r="6.5" fill="url(#btg)" stroke="#0a0a0a" stroke-width="2.8"/><circle cx="17.5" cy="17.5" r="1" fill="#fff8d0" opacity="0.7"/></g>
<g transform="translate(1520,640)"><circle cx="20" cy="20" r="6.5" fill="url(#btg)" stroke="#0a0a0a" stroke-width="2.8"/><circle cx="17.5" cy="17.5" r="1" fill="#fff8d0" opacity="0.7"/></g>
<g transform="translate(280,560)"><ellipse cx="22" cy="30" rx="10" ry="5" fill="#ffffff" opacity="0.3"/><path d="M8 8.3 C12 7.2 18 7 22.5 8.2 C26.5 9.6 27.8 13.5 28.6 17.5 C29.5 21 32.5 22.4 38.4 22.8 L38.4 23.8 C35.8 27.2 32.8 29.5 29.2 29.5 C26.2 29.4 24.4 27.6 23.6 25.2 C22.6 22.8 20.2 21.9 15.5 21.8 C11.8 21.7 9.5 21.8 7.2 22.1 Z" fill="#0a0a0a"/><path d="M8.9 9.6 C12.5 9 17.5 8.7 21.2 9.5 C24 10.3 25.8 12.5 26.6 15.5 L25.9 22.7 C24.2 21.6 21.8 20.6 18 20.2 C14.2 19.9 11.2 19.9 8.6 20.1 Z" fill="#ec4440"/><path d="M9.4 10 C11 9.5 12.8 9.3 14.5 9.3 L13.5 14.5 C11.8 14.5 10.4 14.7 9.3 15 Z" fill="#ff2a50" opacity="0.5"/><path d="M26.9 22.7 C29.5 23.3 32.5 23.6 36.4 23.6 C34 26.2 31.5 28 29.1 28 C27.4 28 26.3 26.6 25.8 25 Z" fill="#f07c30"/><path d="M8.1 7 L2 38.4" stroke="#0a0a0a" stroke-width="2.3" stroke-linecap="round"/><circle cx="8.3" cy="6.1" r="2.8" fill="#0a0a0a"/><circle cx="8.0" cy="6.5" r="0.55" fill="#ffffff" opacity="0.7"/></g>
<g transform="translate(1720,560)"><ellipse cx="22" cy="30" rx="10" ry="5" fill="#ffffff" opacity="0.3"/><path d="M8 8.3 C12 7.2 18 7 22.5 8.2 C26.5 9.6 27.8 13.5 28.6 17.5 C29.5 21 32.5 22.4 38.4 22.8 L38.4 23.8 C35.8 27.2 32.8 29.5 29.2 29.5 C26.2 29.4 24.4 27.6 23.6 25.2 C22.6 22.8 20.2 21.9 15.5 21.8 C11.8 21.7 9.5 21.8 7.2 22.1 Z" fill="#0a0a0a"/><path d="M8.9 9.6 C12.5 9 17.5 8.7 21.2 9.5 C24 10.3 25.8 12.5 26.6 15.5 L25.9 22.7 C24.2 21.6 21.8 20.6 18 20.2 C14.2 19.9 11.2 19.9 8.6 20.1 Z" fill="#5aa8d8"/><path d="M9.4 10 C11 9.5 12.8 9.3 14.5 9.3 L13.5 14.5 C11.8 14.5 10.4 14.7 9.3 15 Z" fill="#4aa0ff" opacity="0.5"/><path d="M26.9 22.7 C29.5 23.3 32.5 23.6 36.4 23.6 C34 26.2 31.5 28 29.1 28 C27.4 28 26.3 26.6 25.8 25 Z" fill="#52c47c"/><path d="M8.1 7 L2 38.4" stroke="#0a0a0a" stroke-width="2.3" stroke-linecap="round"/><circle cx="8.3" cy="6.1" r="2.8" fill="#0a0a0a"/><circle cx="8.0" cy="6.5" r="0.55" fill="#ffffff" opacity="0.7"/></g>
</svg></body></html>
